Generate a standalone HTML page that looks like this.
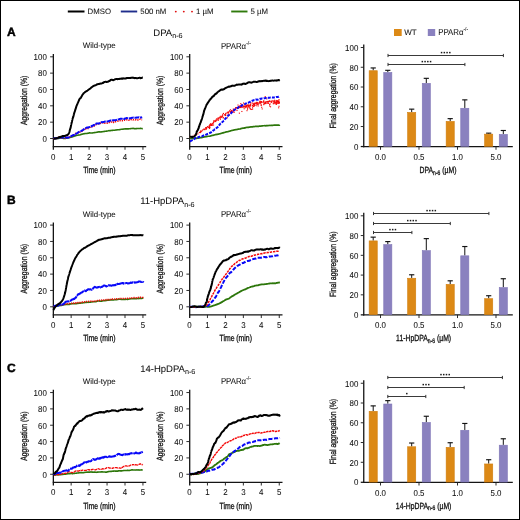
<!DOCTYPE html>
<html><head><meta charset="utf-8"><style>
html,body{margin:0;padding:0;background:#fff;width:520px;height:520px;overflow:hidden}
svg{display:block;will-change:transform}
text{text-rendering:geometricPrecision;font-family:"Liberation Sans", sans-serif;fill:#111;stroke:#111;stroke-width:0.06px}
text.c{stroke-width:0.3px}
text.b{stroke-width:0.45px;fill:#000;stroke:#000}
</style></head><body>
<svg width="520" height="520" viewBox="0 0 520 520">
<rect x="0" y="0" width="520" height="520" fill="#fff"/>
<rect x="0.5" y="0.5" width="519" height="519" fill="none" stroke="#000" stroke-width="1"/>
<line x1="67.8" y1="11.5" x2="84.5" y2="11.5" stroke="#000" stroke-width="2.0"/>
<text x="87.6" y="14.2" font-size="7.8" text-anchor="start" font-weight="normal">DMSO</text>
<line x1="120.8" y1="11.5" x2="137.2" y2="11.5" stroke="#1f2d8c" stroke-width="1.9"/>
<text x="140.3" y="14.2" font-size="7.8" text-anchor="start" font-weight="normal">500 nM</text>
<circle cx="175.8" cy="11.6" r="0.95" fill="#e01010"/>
<circle cx="183.8" cy="11.6" r="0.95" fill="#e01010"/>
<circle cx="192.0" cy="11.6" r="0.95" fill="#e01010"/>
<text x="196" y="14.2" font-size="7.8" text-anchor="start" font-weight="normal">1 µM</text>
<line x1="231.2" y1="11.5" x2="247.5" y2="11.5" stroke="#2f7a0c" stroke-width="1.9"/>
<text x="250.6" y="14.2" font-size="7.8" text-anchor="start" font-weight="normal">5 µM</text>
<text x="7" y="35.8" font-size="12" text-anchor="start" font-weight="bold" class="b">A</text>
<text x="153.3" y="35.8" font-size="9.5">DPA<tspan font-size="7.2" dy="2.5">n-6</tspan></text>
<line x1="53.35" y1="54.1" x2="53.35" y2="149.75" stroke="#141414" stroke-width="1.3"/>
<line x1="52.75" y1="146.55" x2="146.2" y2="146.55" stroke="#141414" stroke-width="1.25"/>
<line x1="50.1" y1="138.5" x2="53.2" y2="138.5" stroke="#222" stroke-width="0.95"/>
<text transform="translate(46.8,141.8) scale(0.92,1)" font-size="8.6" text-anchor="end" font-weight="normal">0</text>
<line x1="50.1" y1="122.16" x2="53.2" y2="122.16" stroke="#222" stroke-width="0.95"/>
<text transform="translate(46.8,125.46) scale(0.92,1)" font-size="8.6" text-anchor="end" font-weight="normal">20</text>
<line x1="50.1" y1="105.82" x2="53.2" y2="105.82" stroke="#222" stroke-width="0.95"/>
<text transform="translate(46.8,109.12) scale(0.92,1)" font-size="8.6" text-anchor="end" font-weight="normal">40</text>
<line x1="50.1" y1="89.48" x2="53.2" y2="89.48" stroke="#222" stroke-width="0.95"/>
<text transform="translate(46.8,92.78) scale(0.92,1)" font-size="8.6" text-anchor="end" font-weight="normal">60</text>
<line x1="50.1" y1="73.14" x2="53.2" y2="73.14" stroke="#222" stroke-width="0.95"/>
<text transform="translate(46.8,76.44) scale(0.92,1)" font-size="8.6" text-anchor="end" font-weight="normal">80</text>
<line x1="50.1" y1="56.8" x2="53.2" y2="56.8" stroke="#222" stroke-width="0.95"/>
<text transform="translate(46.8,60.1) scale(0.92,1)" font-size="8.6" text-anchor="end" font-weight="normal">100</text>
<line x1="71.15" y1="146.55" x2="71.15" y2="149.75" stroke="#222" stroke-width="0.95"/>
<line x1="89.1" y1="146.55" x2="89.1" y2="149.75" stroke="#222" stroke-width="0.95"/>
<line x1="107.05" y1="146.55" x2="107.05" y2="149.75" stroke="#222" stroke-width="0.95"/>
<line x1="125" y1="146.55" x2="125" y2="149.75" stroke="#222" stroke-width="0.95"/>
<line x1="142.95" y1="146.55" x2="142.95" y2="149.75" stroke="#222" stroke-width="0.95"/>
<text transform="translate(53.2,159.7) scale(0.92,1)" font-size="8.6" text-anchor="middle" font-weight="normal">0</text>
<text transform="translate(71.15,159.7) scale(0.92,1)" font-size="8.6" text-anchor="middle" font-weight="normal">1</text>
<text transform="translate(89.1,159.7) scale(0.92,1)" font-size="8.6" text-anchor="middle" font-weight="normal">2</text>
<text transform="translate(107.05,159.7) scale(0.92,1)" font-size="8.6" text-anchor="middle" font-weight="normal">3</text>
<text transform="translate(125,159.7) scale(0.92,1)" font-size="8.6" text-anchor="middle" font-weight="normal">4</text>
<text transform="translate(142.95,159.7) scale(0.92,1)" font-size="8.6" text-anchor="middle" font-weight="normal">5</text>
<text transform="translate(99.4,172.9) scale(0.76,1)" font-size="9.0" text-anchor="middle" font-weight="normal" class="c">Time (min)</text>
<text class="c" transform="translate(26.6,100.4) rotate(-90) scale(0.76,1)" font-size="9.0" text-anchor="middle">Aggregation (%)</text>
<text x="99.3" y="48.4" font-size="7.9" text-anchor="middle">Wild-type</text>
<polyline fill="none" stroke="#2c760a" stroke-width="1.6" stroke-linejoin="round" stroke-linecap="butt" points="53.65,138.52 53.87,138.51 54.17,138.53 54.54,138.55 54.97,138.6 55.44,138.64 55.96,138.65 56.5,138.58 57.06,138.44 57.64,138.4 58.21,138.39 58.78,138.38 59.33,138.26 59.87,138.24 60.38,138.13 60.87,138.07 61.34,138.06 61.81,138.15 62.27,138.28 62.74,138.3 63.21,138.35 63.69,138.35 64.18,138.32 64.68,138.37 65.19,138.41 65.72,138.42 66.26,138.32 66.79,138.26 67.32,138.07 67.83,137.96 68.33,137.84 68.8,137.79 69.26,137.7 69.72,137.56 70.17,137.42 70.63,137.32 71.1,137.13 71.57,137.03 72.05,136.96 72.54,136.76 73.03,136.55 73.53,136.51 74.03,136.23 74.53,136.03 75.04,135.95 75.55,135.75 76.07,135.55 76.58,135.51 77.1,135.3 77.62,135.2 78.13,135.14 78.65,135.03 79.16,134.99 79.67,134.97 80.18,134.81 80.68,134.6 81.19,134.48 81.7,134.27 82.21,134.14 82.73,133.97 83.25,133.9 83.78,133.75 84.31,133.77 84.84,133.6 85.38,133.51 85.92,133.49 86.45,133.52 86.98,133.41 87.51,133.34 88.04,133.21 88.56,133.15 89.07,132.96 89.58,132.81 90.07,132.9 90.56,133.03 91.03,132.96 91.49,132.95 91.95,132.97 92.4,132.95 92.87,132.86 93.35,132.82 93.84,132.77 94.36,132.6 94.87,132.52 95.38,132.48 95.87,132.42 96.34,132.24 96.79,132.24 97.25,132.17 97.72,131.98 98.21,131.89 98.72,132 99.24,131.9 99.75,131.89 100.25,131.95 100.73,131.9 101.19,131.81 101.65,131.85 102.1,131.72 102.56,131.69 103.03,131.6 103.52,131.5 104.01,131.46 104.51,131.39 105.02,131.21 105.54,131.23 106.06,131.27 106.59,131.12 107.13,130.97 107.66,130.94 108.2,130.82 108.74,130.65 109.28,130.68 109.82,130.64 110.36,130.64 110.89,130.52 111.42,130.43 111.95,130.32 112.47,130.37 112.99,130.29 113.5,130.32 114.01,130.31 114.52,130.22 115.03,130.13 115.53,130.01 116.04,129.95 116.54,129.91 117.04,129.84 117.54,129.79 118.04,129.77 118.54,129.8 119.03,129.73 119.54,129.65 120.04,129.53 120.54,129.44 121.05,129.33 121.56,129.24 122.07,129.23 122.59,129.3 123.11,129.11 123.64,128.95 124.17,128.94 124.7,128.89 125.24,128.77 125.77,128.84 126.31,128.9 126.84,128.87 127.36,128.8 127.88,128.89 128.41,128.91 128.94,128.82 129.48,128.78 130.03,128.78 130.59,128.63 131.16,128.45 131.73,128.44 132.31,128.48 132.9,128.42 133.48,128.41 134.07,128.6 134.66,128.66 135.24,128.68 135.82,128.65 136.39,128.63 136.95,128.55 137.5,128.53 138.05,128.51 138.57,128.45 139.09,128.52 139.58,128.46 140.06,128.46 140.52,128.32 140.95,128.47 141.36,128.47 141.73,128.54 142.07,128.51 142.37,128.63 142.61,128.62 142.8,128.55"/>
<polyline fill="none" stroke="#f40808" stroke-width="1.6" stroke-linejoin="round" stroke-linecap="butt" stroke-dasharray="1.3,1.1" points="53.65,139.08 53.87,138.96 54.17,138.75 54.54,138.76 54.96,138.43 55.44,138.55 55.95,138.45 56.49,138.21 57.06,137.92 57.63,137.84 58.21,137.62 58.78,137.34 59.34,137.3 59.89,137.63 60.42,137.61 60.93,137.92 61.44,137.92 61.94,138.11 62.44,137.79 62.95,137.79 63.46,137.81 63.97,137.81 64.49,138.01 65,138.28 65.52,138.13 66.04,137.61 66.55,137.86 67.06,137.57 67.57,137.26 68.06,137.22 68.56,137.41 69.04,137.27 69.53,136.98 70.01,137.02 70.48,136.97 70.96,136.89 71.44,136.44 71.92,136.25 72.39,135.99 72.87,135.56 73.35,135.13 73.82,135.1 74.3,134.91 74.77,134.22 75.25,133.9 75.72,133.39 76.2,133.07 76.67,132.91 77.14,132.9 77.61,132.71 78.09,132.83 78.56,132.49 79.03,132.38 79.5,132.21 79.97,132.11 80.43,131.96 80.9,131.93 81.37,131.42 81.84,131.31 82.31,130.69 82.79,130.12 83.26,129.41 83.73,129.43 84.2,128.93 84.68,128.98 85.15,128.89 85.63,128.95 86.11,128.54 86.59,128.54 87.07,128.6 87.55,128.44 88.03,128.34 88.51,128.37 88.99,128.13 89.46,127.55 89.94,127.29 90.41,127.19 90.89,126.67 91.36,126.44 91.83,126.57 92.29,126.58 92.75,126.26 93.21,126.41 93.66,126.33 94.1,125.86 94.53,125.37 94.97,125.11 95.4,124.95 95.85,124.68 96.3,124.55 96.76,124.49 97.25,124.21 97.75,123.91 98.27,123.67 98.79,123.69 99.31,123.34 99.82,123.47 100.31,123.29 100.79,123.08 101.26,123.04 101.71,123.23 102.18,122.81 102.64,122.7 103.12,122.92 103.61,122.68 104.1,122.75 104.6,123.08 105.11,123.21 105.62,123.14 106.14,123.31 106.67,123.22 107.2,123.11 107.73,122.67 108.26,122.68 108.79,122.61 109.32,122.41 109.86,122.21 110.39,122.68 110.91,122.26 111.44,122.07 111.96,122.37 112.47,122.23 112.98,121.99 113.48,122.4 113.98,122.25 114.48,121.92 114.97,122.09 115.47,121.8 115.95,121.45 116.44,121.42 116.93,121.38 117.41,121.17 117.9,121.18 118.38,120.97 118.86,120.8 119.35,120.72 119.84,120.66 120.32,120.49 120.81,120.43 121.3,120.76 121.8,120.72 122.29,120.72 122.79,120.41 123.29,120.54 123.79,120.18 124.3,120.19 124.81,120.1 125.33,120.38 125.84,120.32 126.36,119.94 126.87,119.81 127.38,119.76 127.9,119.64 128.42,119.72 128.95,120.19 129.48,119.84 130.03,119.69 130.59,119.8 131.15,119.63 131.72,119.32 132.3,119.36 132.88,119.73 133.46,119.82 134.03,119.62 134.61,119.49 135.18,119.84 135.75,119.69 136.31,119.79 136.85,120.05 137.39,120.12 137.91,119.92 138.42,119.5 138.91,119.15 139.39,119.03 139.84,119.22 140.27,119.09 140.67,119.36 141.05,119.52 141.38,119.58 141.68,119.59 141.92,119.71 142.1,119.69"/>
<polyline fill="none" stroke="#0808f8" stroke-width="2.0" stroke-linejoin="round" stroke-linecap="butt" stroke-dasharray="5,0.8" points="53.65,138.49 53.87,138.38 54.17,138.35 54.54,138.38 54.96,138.41 55.44,138.33 55.95,138.16 56.49,138.11 57.06,138.15 57.63,138.11 58.21,138.04 58.78,138.15 59.34,137.96 59.89,137.62 60.42,137.55 60.93,137.45 61.44,137.47 61.94,137.44 62.44,137.37 62.95,137.26 63.46,137.5 63.97,137.38 64.49,137.34 65,137.5 65.52,137.62 66.04,137.46 66.55,137.45 67.05,137.65 67.55,137.7 68.04,137.53 68.52,137.4 68.98,137.39 69.44,137.17 69.9,137.02 70.35,136.72 70.8,136.43 71.25,136.12 71.71,135.77 72.16,135.53 72.61,135.46 73.06,135.31 73.51,134.97 73.96,135 74.41,134.77 74.86,134.44 75.31,134.12 75.77,134.15 76.22,133.63 76.69,133.35 77.15,133.22 77.62,132.97 78.09,132.36 78.56,132.16 79.03,131.86 79.5,131.63 79.97,131.46 80.43,131.33 80.9,131.15 81.37,130.93 81.84,130.6 82.31,130.29 82.79,130.03 83.26,129.78 83.73,129.4 84.2,129.1 84.68,128.88 85.15,128.54 85.63,128.23 86.11,127.93 86.59,127.72 87.07,127.58 87.55,127.58 88.03,127.42 88.51,127.41 88.99,127.15 89.46,127.08 89.94,126.89 90.41,126.82 90.89,126.57 91.36,126.5 91.83,125.95 92.29,125.79 92.75,125.58 93.21,125.29 93.66,125.11 94.1,125.16 94.53,124.71 94.97,124.25 95.4,124.14 95.85,123.89 96.3,123.5 96.76,123.49 97.25,123.51 97.75,123.5 98.27,123.46 98.79,123.58 99.31,123.54 99.82,123.24 100.31,123 100.79,122.71 101.26,122.35 101.71,122.12 102.18,122.15 102.64,122.16 103.12,122.01 103.61,121.91 104.1,121.82 104.6,121.71 105.11,121.55 105.62,121.61 106.14,121.57 106.67,121.55 107.2,121.52 107.73,121.46 108.26,121.31 108.79,121.28 109.32,120.86 109.86,120.64 110.39,120.57 110.91,120.4 111.44,120.35 111.96,120.55 112.47,120.43 112.98,120.31 113.48,120.34 113.98,120.28 114.48,120.23 114.97,120.28 115.47,120.13 115.95,120.05 116.44,119.91 116.93,119.83 117.41,119.77 117.9,119.69 118.38,119.48 118.86,119.36 119.35,119.12 119.84,118.89 120.32,118.86 120.81,118.86 121.3,118.82 121.8,118.86 122.29,118.84 122.79,119 123.29,118.93 123.79,118.95 124.3,118.83 124.81,118.91 125.33,118.38 125.84,118.26 126.36,118.12 126.87,118.1 127.38,118.16 127.9,118.37 128.42,118.52 128.95,118.52 129.48,118.5 130.03,118.28 130.59,118.18 131.15,118.06 131.72,117.84 132.3,117.82 132.88,117.63 133.46,117.62 134.03,117.74 134.61,117.79 135.18,117.64 135.75,117.82 136.31,117.76 136.85,117.44 137.39,117.46 137.91,117.48 138.42,117.41 138.91,117.3 139.39,117.53 139.84,117.64 140.27,117.56 140.67,117.49 141.05,117.51 141.38,117.45 141.68,117.2 141.92,117.25 142.1,117.17"/>
<polyline fill="none" stroke="#000" stroke-width="2.0" stroke-linejoin="round" stroke-linecap="butt" points="53.74,138.58 54.02,138.69 54.39,138.53 54.83,138.32 55.33,138.38 55.85,138.46 56.37,138.19 56.89,138.32 57.39,138.15 57.87,137.93 58.35,137.6 58.84,137.51 59.33,136.93 59.84,137 60.34,136.95 60.84,136.78 61.35,136.51 61.87,136.44 62.39,136.28 62.93,135.98 63.48,136.01 64.03,136.04 64.57,136.11 65.1,135.74 65.61,135.66 66.1,135.36 66.56,135.22 67,135.07 67.42,135 67.8,134.68 68.15,134.39 68.45,134.02 68.71,133.49 68.94,133.14 69.14,132.75 69.32,132.33 69.48,131.75 69.62,131.24 69.76,130.47 69.89,129.86 70.02,129.42 70.15,129.02 70.27,128.65 70.39,128.46 70.52,127.88 70.64,127.31 70.77,127.02 70.89,126.2 71.02,125.37 71.15,124.93 71.27,124.42 71.4,123.63 71.53,123.3 71.66,122.88 71.79,122.36 71.92,121.92 72.05,121.15 72.19,120.57 72.32,120.02 72.45,119.39 72.58,118.68 72.71,118.46 72.85,117.99 72.98,117.56 73.11,117.27 73.24,116.93 73.38,116.42 73.52,115.99 73.65,115.26 73.79,114.67 73.94,114.18 74.08,113.56 74.22,113.06 74.36,112.81 74.51,112.22 74.65,111.76 74.79,111.55 74.93,111.03 75.08,110.49 75.23,110.1 75.38,109.72 75.53,109.07 75.69,108.74 75.86,108.16 76.03,107.68 76.2,107.01 76.38,106.29 76.56,105.87 76.74,105.56 76.92,104.89 77.12,104.5 77.31,104.21 77.52,103.62 77.73,103.08 77.95,102.63 78.17,102.04 78.4,101.74 78.63,101.14 78.87,100.51 79.12,100.04 79.38,99.46 79.64,98.85 79.91,98.64 80.19,98.35 80.46,98.08 80.74,98.02 81.02,97.49 81.31,96.8 81.6,96.38 81.9,95.99 82.21,95.2 82.53,94.71 82.85,94.4 83.18,93.97 83.52,93.37 83.87,93.07 84.24,92.77 84.61,92.42 84.99,92.03 85.38,91.82 85.79,91.47 86.2,91.32 86.61,91.11 87.04,90.77 87.46,90.56 87.89,90.21 88.32,89.81 88.76,89.44 89.19,89.35 89.63,88.92 90.06,88.7 90.51,88.42 90.95,87.87 91.4,87.41 91.85,87.09 92.3,86.86 92.75,86.44 93.2,86.12 93.65,85.87 94.1,85.73 94.54,85.39 94.98,85.39 95.41,85.37 95.83,85.1 96.25,84.94 96.66,84.66 97.09,84.31 97.54,84.18 98.02,84.17 98.52,83.93 99.05,83.97 99.58,83.8 100.1,83.67 100.6,83.6 101.07,83.39 101.52,83.48 101.95,83.34 102.39,83.17 102.83,82.86 103.28,82.91 103.74,82.35 104.22,82.04 104.7,81.95 105.2,81.87 105.7,81.67 106.21,81.94 106.73,82.04 107.25,81.84 107.77,81.7 108.3,81.52 108.83,81.26 109.36,80.95 109.88,80.74 110.41,80.11 110.94,80.02 111.46,79.66 111.97,79.78 112.49,79.94 112.99,80.22 113.5,79.99 114.01,79.87 114.51,79.58 115.01,79.17 115.51,79.16 116.01,79.1 116.51,79.09 117.01,79.08 117.51,79.18 118.01,79.1 118.51,79.01 119.01,79.01 119.51,78.95 120.01,78.66 120.52,78.71 121.03,78.73 121.54,78.5 122.06,78.58 122.57,78.7 123.1,78.32 123.63,78.4 124.16,78.5 124.7,78.44 125.23,78.39 125.77,78.5 126.31,78.11 126.84,78.15 127.36,78.02 127.88,77.94 128.41,77.97 128.94,78.12 129.48,78.07 130.03,78 130.59,78.01 131.16,77.71 131.73,77.64 132.31,77.62 132.9,77.8 133.48,77.75 134.07,77.96 134.66,78.17 135.24,78.05 135.82,77.97 136.39,78.19 136.95,78.2 137.5,78.15 138.05,78.1 138.57,78.04 139.09,77.83 139.58,77.84 140.06,77.82 140.52,78.16 140.95,78.06 141.36,78 141.73,78.03 142.07,77.78 142.37,77.57 142.61,77.7 142.8,77.73"/>
<line x1="189.7" y1="54.1" x2="189.7" y2="149.75" stroke="#141414" stroke-width="1.3"/>
<line x1="189.1" y1="146.55" x2="282.5" y2="146.55" stroke="#141414" stroke-width="1.25"/>
<line x1="186.4" y1="138.5" x2="189.5" y2="138.5" stroke="#222" stroke-width="0.95"/>
<text transform="translate(183.1,141.8) scale(0.92,1)" font-size="8.6" text-anchor="end" font-weight="normal">0</text>
<line x1="186.4" y1="122.16" x2="189.5" y2="122.16" stroke="#222" stroke-width="0.95"/>
<text transform="translate(183.1,125.46) scale(0.92,1)" font-size="8.6" text-anchor="end" font-weight="normal">20</text>
<line x1="186.4" y1="105.82" x2="189.5" y2="105.82" stroke="#222" stroke-width="0.95"/>
<text transform="translate(183.1,109.12) scale(0.92,1)" font-size="8.6" text-anchor="end" font-weight="normal">40</text>
<line x1="186.4" y1="89.48" x2="189.5" y2="89.48" stroke="#222" stroke-width="0.95"/>
<text transform="translate(183.1,92.78) scale(0.92,1)" font-size="8.6" text-anchor="end" font-weight="normal">60</text>
<line x1="186.4" y1="73.14" x2="189.5" y2="73.14" stroke="#222" stroke-width="0.95"/>
<text transform="translate(183.1,76.44) scale(0.92,1)" font-size="8.6" text-anchor="end" font-weight="normal">80</text>
<line x1="186.4" y1="56.8" x2="189.5" y2="56.8" stroke="#222" stroke-width="0.95"/>
<text transform="translate(183.1,60.1) scale(0.92,1)" font-size="8.6" text-anchor="end" font-weight="normal">100</text>
<line x1="207.45" y1="146.55" x2="207.45" y2="149.75" stroke="#222" stroke-width="0.95"/>
<line x1="225.4" y1="146.55" x2="225.4" y2="149.75" stroke="#222" stroke-width="0.95"/>
<line x1="243.35" y1="146.55" x2="243.35" y2="149.75" stroke="#222" stroke-width="0.95"/>
<line x1="261.3" y1="146.55" x2="261.3" y2="149.75" stroke="#222" stroke-width="0.95"/>
<line x1="279.25" y1="146.55" x2="279.25" y2="149.75" stroke="#222" stroke-width="0.95"/>
<text transform="translate(189.5,159.7) scale(0.92,1)" font-size="8.6" text-anchor="middle" font-weight="normal">0</text>
<text transform="translate(207.45,159.7) scale(0.92,1)" font-size="8.6" text-anchor="middle" font-weight="normal">1</text>
<text transform="translate(225.4,159.7) scale(0.92,1)" font-size="8.6" text-anchor="middle" font-weight="normal">2</text>
<text transform="translate(243.35,159.7) scale(0.92,1)" font-size="8.6" text-anchor="middle" font-weight="normal">3</text>
<text transform="translate(261.3,159.7) scale(0.92,1)" font-size="8.6" text-anchor="middle" font-weight="normal">4</text>
<text transform="translate(279.25,159.7) scale(0.92,1)" font-size="8.6" text-anchor="middle" font-weight="normal">5</text>
<text transform="translate(235.7,172.9) scale(0.76,1)" font-size="9.0" text-anchor="middle" font-weight="normal" class="c">Time (min)</text>
<text class="c" transform="translate(162.9,100.4) rotate(-90) scale(0.76,1)" font-size="9.0" text-anchor="middle">Aggregation (%)</text>
<text transform="translate(220.9,48.6) scale(0.92,1)" font-size="8.5">PPARα<tspan font-size="5.4" dy="-3.9">-/-</tspan></text>
<polyline fill="none" stroke="#2c760a" stroke-width="1.7" stroke-linejoin="round" stroke-linecap="butt" points="189.96,138.45 190.19,138.38 190.5,138.43 190.88,138.41 191.32,138.48 191.81,138.47 192.34,138.49 192.89,138.57 193.45,138.48 194.01,138.46 194.56,138.5 195.08,138.45 195.6,138.25 196.1,138.33 196.6,138.39 197.11,138.16 197.62,138.09 198.14,138.13 198.66,137.99 199.19,137.85 199.72,137.88 200.26,137.75 200.8,137.67 201.33,137.6 201.85,137.43 202.38,137.31 202.9,137.28 203.41,137.08 203.93,136.93 204.46,136.87 204.98,136.85 205.51,136.72 206.03,136.68 206.56,136.57 207.08,136.49 207.59,136.34 208.09,136.27 208.59,136.26 209.08,136.25 209.56,136.25 210.04,136.14 210.52,136.02 210.98,135.75 211.44,135.7 211.88,135.47 212.33,135.41 212.79,135.36 213.27,135.31 213.79,135.11 214.32,135.01 214.87,134.78 215.41,134.64 215.93,134.65 216.42,134.4 216.9,134.32 217.38,134.31 217.85,134.19 218.34,134.03 218.85,134.07 219.36,133.88 219.89,133.78 220.44,133.59 220.99,133.46 221.54,133.2 222.1,133.06 222.67,132.96 223.23,132.86 223.79,132.67 224.35,132.5 224.9,132.32 225.44,132.1 225.97,131.99 226.48,131.89 226.98,131.85 227.47,131.76 227.94,131.7 228.4,131.51 228.87,131.34 229.34,131.23 229.83,131.11 230.32,130.9 230.8,130.76 231.26,130.66 231.69,130.53 232.1,130.44 232.5,130.29 232.91,130.25 233.34,130.18 233.8,129.99 234.27,129.91 234.76,129.86 235.23,129.72 235.69,129.66 236.14,129.69 236.57,129.52 237.01,129.47 237.46,129.35 237.92,129.34 238.39,129.14 238.88,129.15 239.37,128.99 239.88,128.98 240.39,128.87 240.91,128.66 241.44,128.47 241.98,128.43 242.51,128.28 243.05,128.02 243.6,128.17 244.14,128.1 244.68,127.88 245.22,127.84 245.76,127.69 246.3,127.54 246.83,127.42 247.35,127.43 247.87,127.37 248.39,127.4 248.9,127.19 249.4,127.05 249.91,127.04 250.41,126.95 250.91,126.84 251.41,126.9 251.9,126.96 252.39,126.87 252.89,126.66 253.38,126.63 253.87,126.58 254.36,126.55 254.85,126.51 255.35,126.46 255.84,126.44 256.34,126.37 256.84,126.43 257.35,126.29 257.86,126.36 258.37,126.31 258.89,126.29 259.42,126.09 259.95,126.17 260.49,126.1 261.02,126.08 261.56,125.96 262.1,125.96 262.63,125.82 263.15,125.74 263.67,125.75 264.19,125.76 264.72,125.69 265.25,125.71 265.8,125.82 266.36,125.67 266.92,125.62 267.5,125.65 268.08,125.63 268.66,125.53 269.25,125.44 269.84,125.48 270.43,125.44 271.02,125.38 271.61,125.36 272.19,125.45 272.77,125.34 273.34,125.24 273.9,125.17 274.45,125.13 274.99,125.05 275.51,124.99 276.02,125.06 276.51,125 276.98,125.05 277.43,125.01 277.86,125.07 278.27,125.09 278.64,125.15 278.98,125.06 279.27,125.1 279.52,125.08 279.7,124.9"/>
<polyline fill="none" stroke="#f40808" stroke-width="1.1" stroke-linejoin="round" stroke-linecap="butt" stroke-dasharray="1.2,1.0" points="190,136.51 190.26,136.78 190.6,136.89 191.02,137.06 191.5,136.9 192.03,136.64 192.57,136.31 193.12,135.94 193.67,135.65 194.2,135.21 194.72,135.01 195.22,134.92 195.7,134.61 196.16,134.45 196.59,134.74 197.01,134.54 197.41,134.75 197.79,134.09 198.15,133.73 198.51,132.87 198.87,132.77 199.24,132.53 199.62,132.19 200,131.91 200.41,132.09 200.82,131.48 201.25,130.7 201.69,130.46 202.14,130.33 202.6,130 203.07,129.79 203.54,129.24 204.01,129.6 204.47,129.01 204.92,128.7 205.36,128.3 205.78,127.66 206.2,127.24 206.62,127.12 207.03,126.97 207.44,126.61 207.86,126.82 208.28,126.68 208.7,126.37 209.12,126.17 209.54,126.51 209.95,126 210.36,125.11 210.76,124.94 211.15,124.68 211.55,124.11 211.95,124.15 212.34,124.09 212.75,123.39 213.15,122.9 213.56,122.13 213.98,121.19 214.4,120.76 214.82,121.13 215.25,121.03 215.67,120.76 216.09,120.69 216.51,120.66 216.93,119.64 217.35,119.21 217.78,119.06 218.21,118.7 218.64,118.66 219.08,118.41 219.52,117.89 219.96,117.62 220.4,117.52 220.84,117.02 221.28,116.72 221.72,115.98 222.16,115.22 222.59,114.73 223.02,114.22 223.45,114.11 223.88,114.27 224.31,114.62 224.73,114.67 225.16,114.4 225.59,113.99 226.02,113.24 226.45,112.82 226.88,112.64 227.32,112.68 227.77,112.55 228.21,112.72 228.66,112.71 229.1,112.35 229.54,112.14 229.97,112.04 230.4,111.88 230.82,111.71 231.24,111.32 231.66,110.82 232.08,110.25 232.5,109.77 232.92,109.57 233.36,109.83 233.79,109.67 234.23,109.72 234.68,109.92 235.14,109.52 235.6,109.17 236.06,108.66 236.54,108.18 237.01,107.83 237.49,107.79 237.97,107.38 238.45,107.32 238.93,107.26 239.42,106.89 239.91,106.27 240.42,106.48 240.92,106.44 241.44,106.44 241.96,107 242.48,107.38 243.01,107.05 243.54,106.99 244.06,107.02 244.59,106.84 245.1,106.65 245.61,106.8 246.12,106.9 246.61,106.86 247.09,106.39 247.58,106.27 248.06,106.2 248.54,105.77 249.04,105.54 249.55,105.53 250.07,105.18 250.59,104.68 251.1,105.04 251.61,105.35 252.09,105.29 252.57,105.34 253.03,104.91 253.49,105.02 253.95,104.45 254.41,104.17 254.88,103.71 255.35,103.92 255.82,103.12 256.3,103.01 256.79,103.01 257.28,103.17 257.77,103.14 258.26,103.1 258.76,103.32 259.25,102.98 259.74,102.49 260.24,102.3 260.73,102.24 261.22,101.62 261.72,101.62 262.22,102.02 262.72,101.73 263.22,101.8 263.72,102.27 264.23,102.44 264.73,102.28 265.24,102.51 265.74,102.46 266.26,102.07 266.78,102.03 267.32,102 267.86,101.39 268.41,101.37 268.95,101.15 269.5,101.1 270.04,100.96 270.58,101.51 271.13,101.99 271.68,101.94 272.24,101.53 272.82,101.34 273.4,100.77 273.98,99.86 274.56,100.17 275.14,100.28 275.7,100.17 276.25,100.37 276.77,100.93 277.26,100.68 277.71,100.74 278.12,101.23 278.47,101.86 278.75,102.16 278.96,102.56"/>
<g fill="#f40808">
<rect x="215.55" y="119.26" width="1.1" height="1.1"/>
<rect x="217.21" y="118.65" width="1.1" height="1.1"/>
<rect x="215.15" y="120.06" width="1.1" height="1.1"/>
<rect x="276.82" y="100.85" width="1.1" height="1.1"/>
<rect x="207.3" y="126.33" width="1.1" height="1.1"/>
<rect x="240.35" y="106.61" width="1.1" height="1.1"/>
<rect x="261.66" y="101.68" width="1.1" height="1.1"/>
<rect x="242.99" y="106.07" width="1.1" height="1.1"/>
<rect x="222.05" y="115.39" width="1.1" height="1.1"/>
<rect x="275.77" y="101.41" width="1.1" height="1.1"/>
<rect x="275.21" y="102.13" width="1.1" height="1.1"/>
<rect x="277.3" y="102.23" width="1.1" height="1.1"/>
<rect x="234.56" y="108.54" width="1.1" height="1.1"/>
<rect x="230.68" y="111.21" width="1.1" height="1.1"/>
<rect x="240.87" y="104.8" width="1.1" height="1.1"/>
<rect x="254.3" y="102.53" width="1.1" height="1.1"/>
<rect x="273.43" y="101.13" width="1.1" height="1.1"/>
<rect x="259.69" y="100.73" width="1.1" height="1.1"/>
<rect x="237.9" y="107.05" width="1.1" height="1.1"/>
<rect x="209.83" y="124.53" width="1.1" height="1.1"/>
<rect x="231.1" y="110.05" width="1.1" height="1.1"/>
<rect x="205.66" y="127.43" width="1.1" height="1.1"/>
<rect x="256.24" y="101.76" width="1.1" height="1.1"/>
<rect x="256.73" y="103.95" width="1.1" height="1.1"/>
<rect x="259.19" y="102.51" width="1.1" height="1.1"/>
<rect x="222.91" y="112.9" width="1.1" height="1.1"/>
<rect x="225.03" y="113.2" width="1.1" height="1.1"/>
<rect x="208.57" y="125.41" width="1.1" height="1.1"/>
<rect x="265.17" y="101.91" width="1.1" height="1.1"/>
<rect x="245.09" y="104.37" width="1.1" height="1.1"/>
<rect x="209.45" y="126.53" width="1.1" height="1.1"/>
<rect x="232.79" y="109.92" width="1.1" height="1.1"/>
<rect x="263.18" y="100.89" width="1.1" height="1.1"/>
<rect x="225.03" y="113.6" width="1.1" height="1.1"/>
<rect x="213.41" y="119.96" width="1.1" height="1.1"/>
<rect x="277.3" y="101.52" width="1.1" height="1.1"/>
<rect x="267.83" y="100.99" width="1.1" height="1.1"/>
<rect x="278.75" y="101.77" width="1.1" height="1.1"/>
<rect x="235.03" y="107.3" width="1.1" height="1.1"/>
<rect x="267.83" y="102.54" width="1.1" height="1.1"/>
<rect x="236.45" y="109.94" width="1.1" height="1.1"/>
<rect x="220.73" y="116.96" width="1.1" height="1.1"/>
<rect x="273.43" y="101.52" width="1.1" height="1.1"/>
<rect x="235.49" y="107.12" width="1.1" height="1.1"/>
<rect x="238.36" y="107.15" width="1.1" height="1.1"/>
<rect x="210.99" y="124.53" width="1.1" height="1.1"/>
<rect x="278.46" y="100.39" width="1.1" height="1.1"/>
<rect x="232.79" y="108.48" width="1.1" height="1.1"/>
<rect x="249.55" y="104.71" width="1.1" height="1.1"/>
<rect x="230.27" y="111.19" width="1.1" height="1.1"/>
<rect x="243.53" y="105.55" width="1.1" height="1.1"/>
<rect x="249.55" y="104.74" width="1.1" height="1.1"/>
<rect x="257.71" y="103.71" width="1.1" height="1.1"/>
<rect x="227.65" y="111.97" width="1.1" height="1.1"/>
<rect x="245.6" y="104.83" width="1.1" height="1.1"/>
<rect x="266.72" y="101.34" width="1.1" height="1.1"/>
<rect x="277.3" y="100.52" width="1.1" height="1.1"/>
<rect x="276.82" y="100.77" width="1.1" height="1.1"/>
<rect x="224.61" y="114.72" width="1.1" height="1.1"/>
<rect x="234.11" y="110.03" width="1.1" height="1.1"/>
<rect x="210.6" y="124.63" width="1.1" height="1.1"/>
<rect x="275.21" y="101.69" width="1.1" height="1.1"/>
<rect x="247.93" y="104.96" width="1.1" height="1.1"/>
<rect x="259.69" y="102.19" width="1.1" height="1.1"/>
<rect x="219.4" y="118.09" width="1.1" height="1.1"/>
<rect x="256.24" y="102.37" width="1.1" height="1.1"/>
<rect x="211.38" y="124.83" width="1.1" height="1.1"/>
<rect x="221.61" y="116.14" width="1.1" height="1.1"/>
<rect x="210.6" y="124.7" width="1.1" height="1.1"/>
<rect x="254.3" y="104.56" width="1.1" height="1.1"/>
<rect x="276.31" y="101.41" width="1.1" height="1.1"/>
<rect x="252.05" y="105.32" width="1.1" height="1.1"/>
<rect x="219.85" y="118.68" width="1.1" height="1.1"/>
<rect x="272.83" y="102.55" width="1.1" height="1.1"/>
<rect x="206.06" y="127.13" width="1.1" height="1.1"/>
<rect x="208.14" y="127.08" width="1.1" height="1.1"/>
<rect x="247.5" y="106.66" width="1.1" height="1.1"/>
<rect x="211.38" y="124.64" width="1.1" height="1.1"/>
<rect x="245.09" y="107.11" width="1.1" height="1.1"/>
<rect x="244.05" y="106.26" width="1.1" height="1.1"/>
<rect x="217.65" y="117.23" width="1.1" height="1.1"/>
<rect x="275.77" y="102.81" width="1.1" height="1.1"/>
<rect x="276.82" y="100.5" width="1.1" height="1.1"/>
<rect x="238.84" y="106.15" width="1.1" height="1.1"/>
<rect x="246.58" y="106.49" width="1.1" height="1.1"/>
<rect x="213.41" y="121.2" width="1.1" height="1.1"/>
<rect x="253.84" y="105.1" width="1.1" height="1.1"/>
<rect x="241.93" y="104.57" width="1.1" height="1.1"/>
<rect x="248.35" y="104.63" width="1.1" height="1.1"/>
<rect x="230.27" y="111.97" width="1.1" height="1.1"/>
<rect x="278.12" y="101.57" width="1.1" height="1.1"/>
<rect x="276.31" y="102.57" width="1.1" height="1.1"/>
<rect x="239.84" y="106.86" width="1.1" height="1.1"/>
<rect x="209.01" y="124.5" width="1.1" height="1.1"/>
<rect x="235.49" y="107.42" width="1.1" height="1.1"/>
<rect x="275.77" y="101.81" width="1.1" height="1.1"/>
<rect x="278.46" y="98.99" width="1.1" height="1.1"/>
<rect x="227.2" y="112.17" width="1.1" height="1.1"/>
<rect x="267.83" y="100.84" width="1.1" height="1.1"/>
<rect x="237.9" y="106.14" width="1.1" height="1.1"/>
<rect x="222.48" y="117.22" width="1.1" height="1.1"/>
<rect x="271.65" y="100.23" width="1.1" height="1.1"/>
<rect x="209.83" y="123.58" width="1.1" height="1.1"/>
<rect x="232.36" y="111.82" width="1.1" height="1.1"/>
<rect x="222.91" y="117.17" width="1.1" height="1.1"/>
<rect x="212.18" y="122.86" width="1.1" height="1.1"/>
<rect x="228.57" y="113.81" width="1.1" height="1.1"/>
<rect x="264.68" y="102.79" width="1.1" height="1.1"/>
<rect x="253.4" y="105.37" width="1.1" height="1.1"/>
<rect x="217.65" y="119.44" width="1.1" height="1.1"/>
<rect x="200.12" y="130.49" width="1.1" height="1.1"/>
<rect x="257.22" y="102.01" width="1.1" height="1.1"/>
<rect x="253.4" y="102.95" width="1.1" height="1.1"/>
<rect x="208.14" y="126.74" width="1.1" height="1.1"/>
<rect x="239.84" y="106.05" width="1.1" height="1.1"/>
<rect x="235.97" y="107.15" width="1.1" height="1.1"/>
<rect x="210.22" y="123.17" width="1.1" height="1.1"/>
<rect x="203.43" y="128.92" width="1.1" height="1.1"/>
<rect x="247.05" y="104.74" width="1.1" height="1.1"/>
<rect x="240.35" y="106.99" width="1.1" height="1.1"/>
<rect x="260.67" y="104.97" width="1.1" height="1.1"/>
<rect x="237.45" y="107.78" width="1.1" height="1.1"/>
<rect x="264.18" y="102.67" width="1.1" height="1.1"/>
<rect x="256.73" y="103.11" width="1.1" height="1.1"/>
<rect x="257.71" y="105.37" width="1.1" height="1.1"/>
<rect x="222.05" y="115.28" width="1.1" height="1.1"/>
<rect x="212.59" y="122.65" width="1.1" height="1.1"/>
<rect x="269.05" y="100.51" width="1.1" height="1.1"/>
<rect x="209.45" y="124.7" width="1.1" height="1.1"/>
<rect x="245.6" y="105.85" width="1.1" height="1.1"/>
<rect x="205.25" y="128.17" width="1.1" height="1.1"/>
<rect x="254.3" y="103.06" width="1.1" height="1.1"/>
<rect x="278.46" y="102.59" width="1.1" height="1.1"/>
<rect x="241.93" y="105.5" width="1.1" height="1.1"/>
<rect x="274.63" y="100.46" width="1.1" height="1.1"/>
<rect x="209.01" y="126.98" width="1.1" height="1.1"/>
<rect x="275.77" y="103.35" width="1.1" height="1.1"/>
<rect x="219.4" y="116.73" width="1.1" height="1.1"/>
<rect x="247.5" y="104.92" width="1.1" height="1.1"/>
<rect x="240.87" y="104.17" width="1.1" height="1.1"/>
<rect x="214.7" y="120.7" width="1.1" height="1.1"/>
<rect x="232.79" y="110.72" width="1.1" height="1.1"/>
<rect x="203.43" y="128.44" width="1.1" height="1.1"/>
<rect x="205.66" y="128.72" width="1.1" height="1.1"/>
<rect x="260.18" y="101.72" width="1.1" height="1.1"/>
<rect x="267.27" y="101.16" width="1.1" height="1.1"/>
<rect x="245.6" y="105.68" width="1.1" height="1.1"/>
<rect x="269.51" y="101.08" width="1.1" height="1.1"/>
<rect x="278.46" y="102.63" width="1.1" height="1.1"/>
<rect x="210.99" y="123.66" width="1.1" height="1.1"/>
<rect x="253.84" y="103.62" width="1.1" height="1.1"/>
<rect x="200.12" y="131.66" width="1.1" height="1.1"/>
<rect x="213" y="124.46" width="1.1" height="1.1"/>
<rect x="213" y="121.93" width="1.1" height="1.1"/>
<rect x="201.34" y="130.41" width="1.1" height="1.1"/>
<rect x="219.85" y="115.75" width="1.1" height="1.1"/>
<rect x="240.35" y="105.89" width="1.1" height="1.1"/>
<rect x="209.01" y="127.27" width="1.1" height="1.1"/>
<rect x="264.68" y="101.28" width="1.1" height="1.1"/>
<rect x="227.65" y="111.15" width="1.1" height="1.1"/>
<rect x="205.66" y="127.41" width="1.1" height="1.1"/>
<rect x="277.73" y="100.93" width="1.1" height="1.1"/>
<rect x="273.43" y="100.42" width="1.1" height="1.1"/>
<rect x="217.65" y="117.88" width="1.1" height="1.1"/>
<rect x="255.74" y="102.37" width="1.1" height="1.1"/>
<rect x="250.09" y="105.4" width="1.1" height="1.1"/>
<rect x="217.65" y="119.76" width="1.1" height="1.1"/>
<rect x="277.3" y="103.03" width="1.1" height="1.1"/>
<rect x="247.05" y="107.68" width="1.1" height="1.1"/>
<rect x="229.46" y="110.81" width="1.1" height="1.1"/>
<rect x="266.19" y="101.01" width="1.1" height="1.1"/>
<rect x="277.73" y="100.47" width="1.1" height="1.1"/>
<rect x="270.53" y="100.53" width="1.1" height="1.1"/>
<rect x="215.95" y="118.37" width="1.1" height="1.1"/>
<rect x="233.66" y="111.76" width="1.1" height="1.1"/>
<rect x="243.53" y="104.52" width="1.1" height="1.1"/>
<rect x="271.08" y="101.23" width="1.1" height="1.1"/>
<rect x="199.85" y="132.06" width="1.1" height="1.1"/>
<rect x="229.05" y="110.26" width="1.1" height="1.1"/>
<rect x="204.45" y="129.02" width="1.1" height="1.1"/>
<rect x="215.15" y="121.01" width="1.1" height="1.1"/>
<rect x="229.86" y="109.21" width="1.1" height="1.1"/>
<rect x="263.68" y="102.88" width="1.1" height="1.1"/>
<rect x="209.01" y="127.93" width="1.1" height="1.1"/>
<rect x="255.74" y="102.77" width="1.1" height="1.1"/>
<rect x="225.03" y="114.5" width="1.1" height="1.1"/>
<rect x="206.06" y="127.79" width="1.1" height="1.1"/>
<rect x="227.65" y="113.46" width="1.1" height="1.1"/>
<rect x="200.47" y="131.07" width="1.1" height="1.1"/>
<rect x="238.84" y="105.48" width="1.1" height="1.1"/>
<rect x="225.03" y="114.97" width="1.1" height="1.1"/>
<rect x="260.18" y="103.15" width="1.1" height="1.1"/>
<rect x="258.21" y="103.22" width="1.1" height="1.1"/>
<rect x="219.4" y="116.81" width="1.1" height="1.1"/>
<rect x="231.51" y="110.93" width="1.1" height="1.1"/>
<rect x="259.69" y="101.39" width="1.1" height="1.1"/>
<rect x="226.76" y="117.18" width="1.1" height="1.1"/>
<rect x="211.38" y="124.45" width="1.1" height="1.1"/>
<rect x="252.95" y="103.91" width="1.1" height="1.1"/>
<rect x="237.9" y="107.41" width="1.1" height="1.1"/>
</g>
<g fill="#f40808">
<rect x="276.82" y="100.65" width="1.1" height="1.1"/>
<rect x="274.03" y="101.14" width="1.1" height="1.1"/>
<rect x="274.03" y="102.4" width="1.1" height="1.1"/>
<rect x="243.05" y="102.48" width="1.1" height="1.1"/>
<rect x="275.77" y="103.86" width="1.1" height="1.1"/>
<rect x="238.82" y="112.62" width="1.1" height="1.1"/>
<rect x="248.97" y="105.36" width="1.1" height="1.1"/>
<rect x="260.67" y="101.8" width="1.1" height="1.1"/>
<rect x="266.19" y="98.35" width="1.1" height="1.1"/>
<rect x="276.31" y="101.47" width="1.1" height="1.1"/>
<rect x="244.8" y="105.98" width="1.1" height="1.1"/>
<rect x="252.05" y="105.11" width="1.1" height="1.1"/>
<rect x="269.51" y="103.35" width="1.1" height="1.1"/>
<rect x="252.5" y="102.81" width="1.1" height="1.1"/>
<rect x="251.59" y="102.42" width="1.1" height="1.1"/>
<rect x="240.25" y="103.06" width="1.1" height="1.1"/>
<rect x="238.41" y="107.03" width="1.1" height="1.1"/>
<rect x="278.75" y="101.74" width="1.1" height="1.1"/>
<rect x="267.83" y="102.59" width="1.1" height="1.1"/>
<rect x="250.09" y="105.13" width="1.1" height="1.1"/>
<rect x="256.24" y="105.2" width="1.1" height="1.1"/>
<rect x="267.27" y="102.76" width="1.1" height="1.1"/>
<rect x="253.4" y="105.51" width="1.1" height="1.1"/>
<rect x="265.17" y="103.07" width="1.1" height="1.1"/>
<rect x="246.46" y="110.11" width="1.1" height="1.1"/>
<rect x="249.55" y="107.59" width="1.1" height="1.1"/>
<rect x="247.47" y="104.23" width="1.1" height="1.1"/>
<rect x="260.67" y="101.58" width="1.1" height="1.1"/>
<rect x="245.93" y="104.8" width="1.1" height="1.1"/>
<rect x="261.66" y="108.36" width="1.1" height="1.1"/>
<rect x="278.12" y="107.25" width="1.1" height="1.1"/>
<rect x="252.05" y="107.19" width="1.1" height="1.1"/>
<rect x="278.12" y="102.61" width="1.1" height="1.1"/>
<rect x="248.97" y="106.66" width="1.1" height="1.1"/>
<rect x="272.83" y="103.21" width="1.1" height="1.1"/>
<rect x="263.68" y="103.43" width="1.1" height="1.1"/>
<rect x="246.98" y="108.65" width="1.1" height="1.1"/>
<rect x="247.93" y="105.67" width="1.1" height="1.1"/>
<rect x="243.64" y="108.18" width="1.1" height="1.1"/>
<rect x="270" y="106.23" width="1.1" height="1.1"/>
<rect x="251.11" y="108.92" width="1.1" height="1.1"/>
<rect x="250.09" y="103.54" width="1.1" height="1.1"/>
<rect x="264.68" y="96.01" width="1.1" height="1.1"/>
<rect x="243.05" y="106.46" width="1.1" height="1.1"/>
<rect x="263.68" y="102.35" width="1.1" height="1.1"/>
<rect x="255.74" y="103.48" width="1.1" height="1.1"/>
<rect x="278.46" y="105.74" width="1.1" height="1.1"/>
<rect x="245.93" y="105.96" width="1.1" height="1.1"/>
<rect x="271.08" y="101.64" width="1.1" height="1.1"/>
<rect x="263.18" y="104.1" width="1.1" height="1.1"/>
<rect x="274.63" y="103.17" width="1.1" height="1.1"/>
<rect x="252.05" y="108.56" width="1.1" height="1.1"/>
<rect x="250.09" y="102.26" width="1.1" height="1.1"/>
<rect x="269.05" y="104.04" width="1.1" height="1.1"/>
<rect x="248.35" y="106.03" width="1.1" height="1.1"/>
<rect x="249.55" y="108.22" width="1.1" height="1.1"/>
<rect x="250.09" y="108.61" width="1.1" height="1.1"/>
<rect x="240.25" y="106.6" width="1.1" height="1.1"/>
<rect x="259.19" y="100.76" width="1.1" height="1.1"/>
<rect x="269.05" y="105.44" width="1.1" height="1.1"/>
<rect x="263.18" y="100.21" width="1.1" height="1.1"/>
<rect x="254.3" y="104.88" width="1.1" height="1.1"/>
<rect x="274.03" y="102.28" width="1.1" height="1.1"/>
<rect x="260.67" y="104.23" width="1.1" height="1.1"/>
<rect x="237.45" y="104.51" width="1.1" height="1.1"/>
<rect x="241.33" y="110.93" width="1.1" height="1.1"/>
<rect x="252.95" y="105.83" width="1.1" height="1.1"/>
<rect x="261.16" y="106.75" width="1.1" height="1.1"/>
<rect x="240.25" y="106.67" width="1.1" height="1.1"/>
<rect x="265.68" y="102.6" width="1.1" height="1.1"/>
</g>
<polyline fill="none" stroke="#0808f8" stroke-width="2.0" stroke-linejoin="round" stroke-linecap="butt" stroke-dasharray="3,1.2" points="190.01,141.16 190.27,141.18 190.61,141.1 191,140.78 191.42,140.57 191.85,140.34 192.29,140.17 192.73,139.96 193.18,139.7 193.65,139.46 194.12,139.15 194.6,138.76 195.09,138.35 195.58,138.08 196.07,137.94 196.56,137.87 197.04,137.71 197.52,137.59 198,137.48 198.48,137.26 198.95,136.97 199.43,136.83 199.9,136.77 200.38,136.63 200.86,136.51 201.33,136.5 201.81,136.39 202.3,136.17 202.78,135.87 203.26,135.6 203.75,135.43 204.23,135.33 204.71,135.24 205.19,135.13 205.68,134.87 206.17,134.67 206.66,134.29 207.14,134.01 207.63,133.93 208.11,133.78 208.59,133.46 209.06,133.33 209.53,133.07 209.99,132.78 210.45,132.69 210.89,132.44 211.33,132.24 211.77,131.94 212.2,131.62 212.63,131.2 213.05,130.75 213.48,130.32 213.91,130.1 214.33,129.74 214.76,129.32 215.18,129.19 215.58,128.8 215.97,128.46 216.35,128.2 216.72,127.96 217.08,127.55 217.44,127.24 217.8,126.93 218.16,126.62 218.52,126.23 218.89,125.7 219.26,125.22 219.63,124.62 220,124.18 220.37,123.66 220.75,123.51 221.12,123.21 221.49,122.89 221.86,122.5 222.23,122.19 222.6,121.79 222.98,121.46 223.35,121.04 223.72,120.55 224.1,120.26 224.48,119.63 224.86,119.23 225.24,118.86 225.62,118.53 226,118.04 226.38,117.78 226.75,117.19 227.12,116.74 227.49,116.26 227.85,115.91 228.22,115.49 228.58,115.29 228.94,115.05 229.3,114.78 229.67,114.46 230.05,114.22 230.43,113.79 230.81,113.43 231.19,113.05 231.57,112.68 231.94,112.17 232.31,111.85 232.67,111.42 233.05,111.04 233.42,110.67 233.8,110.44 234.19,110.14 234.59,109.83 234.99,109.49 235.4,109.19 235.81,108.88 236.22,108.62 236.64,108.41 237.06,108.27 237.49,107.95 237.92,107.72 238.36,107.43 238.8,107.15 239.24,106.76 239.69,106.67 240.13,106.42 240.58,106.26 241.02,105.96 241.47,105.79 241.92,105.5 242.38,105.25 242.84,104.93 243.3,104.71 243.77,104.6 244.23,104.37 244.7,104.14 245.17,103.92 245.63,103.69 246.1,103.41 246.57,103.15 247.04,102.94 247.51,102.76 247.98,102.79 248.45,102.55 248.93,102.32 249.41,102.13 249.9,101.97 250.39,101.58 250.88,101.32 251.37,101.26 251.86,101.02 252.36,100.69 252.85,100.56 253.34,100.48 253.83,100.14 254.32,99.98 254.82,99.96 255.31,99.8 255.8,99.52 256.29,99.6 256.79,99.69 257.28,99.67 257.77,99.6 258.26,99.56 258.76,99.33 259.25,99.21 259.74,98.98 260.24,98.78 260.73,98.82 261.22,98.84 261.72,98.6 262.22,98.49 262.72,98.56 263.22,98.32 263.72,98.22 264.23,98.2 264.73,98.25 265.24,98.08 265.74,98.1 266.26,97.96 266.78,98.03 267.32,97.95 267.86,97.9 268.41,97.82 268.95,97.83 269.5,97.65 270.04,97.59 270.58,97.51 271.13,97.46 271.68,97.51 272.24,97.55 272.82,97.39 273.4,97.53 273.98,97.6 274.56,97.26 275.14,97.15 275.7,97.22 276.25,97.05 276.77,96.9 277.26,97.08 277.71,97.04 278.12,96.78 278.47,96.74 278.75,96.73 278.96,96.54"/>
<polyline fill="none" stroke="#000" stroke-width="2.0" stroke-linejoin="round" stroke-linecap="butt" points="190.14,136.92 190.47,136.83 190.89,136.71 191.39,136.83 191.93,137.01 192.48,137 193.02,136.79 193.54,136.78 194.01,136.59 194.43,136.28 194.81,135.9 195.13,135.56 195.42,135.43 195.69,134.85 195.93,134.14 196.17,133.81 196.4,133.04 196.62,131.96 196.83,131.6 197.03,131.38 197.22,130.91 197.41,130.66 197.6,130.32 197.79,130.23 197.98,129.65 198.17,128.95 198.37,128.72 198.56,128.53 198.74,127.58 198.93,126.75 199.12,126.66 199.3,125.92 199.49,125.16 199.67,124.79 199.86,124.48 200.04,123.86 200.22,123.3 200.4,122.88 200.58,122.43 200.76,122.16 200.93,121.43 201.1,120.96 201.27,120.68 201.44,120.11 201.62,119.58 201.79,119.23 201.96,118.83 202.13,118.03 202.3,117.53 202.46,116.89 202.63,116.27 202.79,115.99 202.94,115.44 203.09,114.85 203.24,114.42 203.38,114.16 203.52,113.32 203.65,112.95 203.78,112.46 203.91,111.77 204.03,111.3 204.15,110.9 204.28,110.38 204.41,110.03 204.55,109.8 204.7,109.33 204.86,108.9 205.03,108.52 205.21,108.08 205.41,107.62 205.62,107.04 205.84,106.36 206.06,105.87 206.3,105.29 206.55,104.92 206.8,104.41 207.06,104.03 207.32,103.77 207.59,103.33 207.87,102.73 208.15,102.28 208.44,102.01 208.73,101.54 209.03,101.07 209.33,100.51 209.63,100.22 209.95,99.72 210.26,99.2 210.59,99.04 210.92,98.62 211.25,98.25 211.59,97.86 211.94,97.38 212.29,96.8 212.64,96.85 213,96.43 213.36,96.18 213.73,95.81 214.1,95.73 214.48,94.94 214.86,94.45 215.25,94.21 215.64,94.11 216.04,93.53 216.44,93.43 216.86,93.1 217.28,92.41 217.72,92.03 218.16,91.73 218.6,91.39 219.04,91.18 219.49,90.9 219.93,90.48 220.37,90.07 220.83,89.76 221.3,89.53 221.78,89.56 222.26,89.67 222.75,89.54 223.22,89.48 223.68,89.31 224.13,89.1 224.57,88.49 225.02,88.43 225.49,88.13 225.97,87.84 226.46,87.58 226.96,87.37 227.48,87.09 227.99,86.93 228.51,86.7 229.02,86.57 229.51,86.72 230,86.62 230.48,86.36 230.95,86.33 231.41,86.1 231.88,85.75 232.35,85.57 232.83,85.77 233.31,85.71 233.8,85.73 234.3,85.82 234.8,85.55 235.32,85.27 235.84,85.19 236.36,84.96 236.88,84.62 237.39,84.82 237.9,84.64 238.39,84.59 238.87,84.48 239.33,84.54 239.8,84.51 240.26,84.58 240.73,84.5 241.2,84.44 241.67,84.62 242.15,84.27 242.64,83.97 243.13,83.73 243.63,83.85 244.13,83.53 244.64,83.82 245.15,83.92 245.67,83.94 246.19,83.57 246.72,83.39 247.25,83.06 247.78,82.74 248.3,82.45 248.81,82.34 249.31,82.25 249.8,82.28 250.28,82.42 250.76,82.5 251.24,82.65 251.72,82.55 252.2,82.33 252.68,82.15 253.17,81.93 253.66,81.75 254.16,81.68 254.66,81.66 255.16,81.76 255.67,81.87 256.18,81.88 256.7,82 257.22,81.93 257.75,81.66 258.28,81.32 258.82,81.42 259.36,81.35 259.9,81.04 260.45,81.15 261,81.28 261.55,81.06 262.09,81 262.62,81.14 263.15,80.87 263.67,80.8 264.19,80.88 264.72,80.69 265.25,80.56 265.8,80.7 266.36,81 266.92,80.73 267.5,80.96 268.08,81.12 268.66,81.13 269.25,81.02 269.84,80.98 270.43,80.78 271.02,80.67 271.61,80.65 272.19,80.45 272.77,80.56 273.34,80.64 273.9,80.61 274.45,80.52 274.99,80.4 275.51,80.5 276.02,80.47 276.51,80.7 276.98,80.45 277.43,80.4 277.86,80.19 278.27,80.2 278.64,79.9 278.98,79.95 279.27,80.28 279.52,80.27 279.7,80.13"/>
<line x1="363.75" y1="44.5" x2="363.75" y2="147.15" stroke="#141414" stroke-width="1.3"/>
<line x1="363.15" y1="146.55" x2="512.8" y2="146.55" stroke="#141414" stroke-width="1.25"/>
<line x1="360.75" y1="146.55" x2="363.75" y2="146.55" stroke="#141414" stroke-width="1.25"/>
<text transform="translate(358.3,149.6) scale(0.92,1)" font-size="8.6" text-anchor="end" font-weight="normal">0</text>
<line x1="360.75" y1="126.54" x2="363.75" y2="126.54" stroke="#222" stroke-width="0.95"/>
<text transform="translate(358.3,129.84) scale(0.92,1)" font-size="8.6" text-anchor="end" font-weight="normal">20</text>
<line x1="360.75" y1="106.78" x2="363.75" y2="106.78" stroke="#222" stroke-width="0.95"/>
<text transform="translate(358.3,110.08) scale(0.92,1)" font-size="8.6" text-anchor="end" font-weight="normal">40</text>
<line x1="360.75" y1="87.02" x2="363.75" y2="87.02" stroke="#222" stroke-width="0.95"/>
<text transform="translate(358.3,90.32) scale(0.92,1)" font-size="8.6" text-anchor="end" font-weight="normal">60</text>
<line x1="360.75" y1="67.26" x2="363.75" y2="67.26" stroke="#222" stroke-width="0.95"/>
<text transform="translate(358.3,70.56) scale(0.92,1)" font-size="8.6" text-anchor="end" font-weight="normal">80</text>
<line x1="360.75" y1="47.5" x2="363.75" y2="47.5" stroke="#222" stroke-width="0.95"/>
<text transform="translate(358.3,50.8) scale(0.92,1)" font-size="8.6" text-anchor="end" font-weight="normal">100</text>
<line x1="380.5" y1="146.55" x2="380.5" y2="149.75" stroke="#222" stroke-width="0.95"/>
<text transform="translate(380.5,159.8) scale(0.92,1)" font-size="8.6" text-anchor="middle" font-weight="normal">0.0</text>
<line x1="419" y1="146.55" x2="419" y2="149.75" stroke="#222" stroke-width="0.95"/>
<text transform="translate(419,159.8) scale(0.92,1)" font-size="8.6" text-anchor="middle" font-weight="normal">0.5</text>
<line x1="457.5" y1="146.55" x2="457.5" y2="149.75" stroke="#222" stroke-width="0.95"/>
<text transform="translate(457.5,159.8) scale(0.92,1)" font-size="8.6" text-anchor="middle" font-weight="normal">1.0</text>
<line x1="496" y1="146.55" x2="496" y2="149.75" stroke="#222" stroke-width="0.95"/>
<text transform="translate(496,159.8) scale(0.92,1)" font-size="8.6" text-anchor="middle" font-weight="normal">5.0</text>
<line x1="373.2" y1="70.42" x2="373.2" y2="67.95" stroke="#111" stroke-width="1.0"/>
<line x1="370.6" y1="67.95" x2="375.8" y2="67.95" stroke="#111" stroke-width="1.15"/>
<rect x="369.15" y="70.72" width="8.1" height="75.58" fill="#dc8916" stroke="#d17e0e" stroke-width="0.6"/>
<line x1="387.8" y1="72.2" x2="387.8" y2="70.32" stroke="#111" stroke-width="1.0"/>
<line x1="385.2" y1="70.32" x2="390.4" y2="70.32" stroke="#111" stroke-width="1.15"/>
<rect x="383.75" y="72.5" width="8.1" height="73.8" fill="#8a81bf" stroke="#7e75b6" stroke-width="0.6"/>
<line x1="411.7" y1="112.12" x2="411.7" y2="109.15" stroke="#111" stroke-width="1.0"/>
<line x1="409.1" y1="109.15" x2="414.3" y2="109.15" stroke="#111" stroke-width="1.15"/>
<rect x="407.65" y="112.42" width="8.1" height="33.88" fill="#dc8916" stroke="#d17e0e" stroke-width="0.6"/>
<line x1="426.3" y1="83.07" x2="426.3" y2="78.33" stroke="#111" stroke-width="1.0"/>
<line x1="423.7" y1="78.33" x2="428.9" y2="78.33" stroke="#111" stroke-width="1.15"/>
<rect x="422.25" y="83.37" width="8.1" height="62.93" fill="#8a81bf" stroke="#7e75b6" stroke-width="0.6"/>
<line x1="450.2" y1="121.11" x2="450.2" y2="118.64" stroke="#111" stroke-width="1.0"/>
<line x1="447.6" y1="118.64" x2="452.8" y2="118.64" stroke="#111" stroke-width="1.15"/>
<rect x="446.15" y="121.41" width="8.1" height="24.89" fill="#dc8916" stroke="#d17e0e" stroke-width="0.6"/>
<line x1="464.8" y1="107.97" x2="464.8" y2="99.86" stroke="#111" stroke-width="1.0"/>
<line x1="462.2" y1="99.86" x2="467.4" y2="99.86" stroke="#111" stroke-width="1.15"/>
<rect x="460.75" y="108.27" width="8.1" height="38.03" fill="#8a81bf" stroke="#7e75b6" stroke-width="0.6"/>
<line x1="488.7" y1="133.85" x2="488.7" y2="133.16" stroke="#111" stroke-width="1.0"/>
<line x1="486.1" y1="133.16" x2="491.3" y2="133.16" stroke="#111" stroke-width="1.15"/>
<rect x="484.65" y="134.15" width="8.1" height="12.15" fill="#dc8916" stroke="#d17e0e" stroke-width="0.6"/>
<line x1="503.3" y1="134.15" x2="503.3" y2="130.49" stroke="#111" stroke-width="1.0"/>
<line x1="500.7" y1="130.49" x2="505.9" y2="130.49" stroke="#111" stroke-width="1.15"/>
<rect x="499.25" y="134.45" width="8.1" height="11.85" fill="#8a81bf" stroke="#7e75b6" stroke-width="0.6"/>
<line x1="388" y1="55.5" x2="503.4" y2="55.5" stroke="#3a3a3a" stroke-width="1.1"/>
<line x1="388" y1="53.9" x2="388" y2="57.1" stroke="#333" stroke-width="1.0"/>
<line x1="503.4" y1="53.9" x2="503.4" y2="57.1" stroke="#333" stroke-width="1.0"/>
<rect x="440.82" y="51.85" width="1.5" height="1.5" fill="#1a1a1a"/>
<rect x="443.57" y="51.85" width="1.5" height="1.5" fill="#1a1a1a"/>
<rect x="446.32" y="51.85" width="1.5" height="1.5" fill="#1a1a1a"/>
<rect x="449.07" y="51.85" width="1.5" height="1.5" fill="#1a1a1a"/>
<line x1="388" y1="64.5" x2="464.9" y2="64.5" stroke="#3a3a3a" stroke-width="1.1"/>
<line x1="388" y1="62.9" x2="388" y2="66.1" stroke="#333" stroke-width="1.0"/>
<line x1="464.9" y1="62.9" x2="464.9" y2="66.1" stroke="#333" stroke-width="1.0"/>
<rect x="421.57" y="60.85" width="1.5" height="1.5" fill="#1a1a1a"/>
<rect x="424.32" y="60.85" width="1.5" height="1.5" fill="#1a1a1a"/>
<rect x="427.07" y="60.85" width="1.5" height="1.5" fill="#1a1a1a"/>
<rect x="429.82" y="60.85" width="1.5" height="1.5" fill="#1a1a1a"/>
<text class="c" transform="translate(336.4,95.9) rotate(-90) scale(0.76,1)" font-size="9.0" text-anchor="middle">Final aggregation (%)</text>
<text class="c" transform="translate(438,172.75) scale(0.76,1)" font-size="9.0" text-anchor="middle">DPA<tspan font-size="6.6" dy="1.8">n-6</tspan><tspan dy="-1.8"> (µM)</tspan></text>
<rect x="394" y="29" width="7.7" height="7" fill="#dc8916"/>
<text x="404.2" y="35.4" font-size="8.0" text-anchor="start" font-weight="normal">WT</text>
<rect x="427.8" y="29" width="7.4" height="7" fill="#8a81bf"/>
<text transform="translate(438.2,35.4) scale(0.92,1)" font-size="8.5">PPARα<tspan font-size="5.4" dy="-4.0">-/-</tspan></text>
<text x="7" y="204.1" font-size="12" text-anchor="start" font-weight="bold" class="b">B</text>
<text x="140.2" y="204.1" font-size="9.5">11-HpDPA<tspan font-size="7.2" dy="2.5">n-6</tspan></text>
<line x1="53.35" y1="222.4" x2="53.35" y2="318.05" stroke="#141414" stroke-width="1.3"/>
<line x1="52.75" y1="314.85" x2="146.2" y2="314.85" stroke="#141414" stroke-width="1.25"/>
<line x1="50.1" y1="306.8" x2="53.2" y2="306.8" stroke="#222" stroke-width="0.95"/>
<text transform="translate(46.8,310.1) scale(0.92,1)" font-size="8.6" text-anchor="end" font-weight="normal">0</text>
<line x1="50.1" y1="290.46" x2="53.2" y2="290.46" stroke="#222" stroke-width="0.95"/>
<text transform="translate(46.8,293.76) scale(0.92,1)" font-size="8.6" text-anchor="end" font-weight="normal">20</text>
<line x1="50.1" y1="274.12" x2="53.2" y2="274.12" stroke="#222" stroke-width="0.95"/>
<text transform="translate(46.8,277.42) scale(0.92,1)" font-size="8.6" text-anchor="end" font-weight="normal">40</text>
<line x1="50.1" y1="257.78" x2="53.2" y2="257.78" stroke="#222" stroke-width="0.95"/>
<text transform="translate(46.8,261.08) scale(0.92,1)" font-size="8.6" text-anchor="end" font-weight="normal">60</text>
<line x1="50.1" y1="241.44" x2="53.2" y2="241.44" stroke="#222" stroke-width="0.95"/>
<text transform="translate(46.8,244.74) scale(0.92,1)" font-size="8.6" text-anchor="end" font-weight="normal">80</text>
<line x1="50.1" y1="225.1" x2="53.2" y2="225.1" stroke="#222" stroke-width="0.95"/>
<text transform="translate(46.8,228.4) scale(0.92,1)" font-size="8.6" text-anchor="end" font-weight="normal">100</text>
<line x1="71.15" y1="314.85" x2="71.15" y2="318.05" stroke="#222" stroke-width="0.95"/>
<line x1="89.1" y1="314.85" x2="89.1" y2="318.05" stroke="#222" stroke-width="0.95"/>
<line x1="107.05" y1="314.85" x2="107.05" y2="318.05" stroke="#222" stroke-width="0.95"/>
<line x1="125" y1="314.85" x2="125" y2="318.05" stroke="#222" stroke-width="0.95"/>
<line x1="142.95" y1="314.85" x2="142.95" y2="318.05" stroke="#222" stroke-width="0.95"/>
<text transform="translate(53.2,328) scale(0.92,1)" font-size="8.6" text-anchor="middle" font-weight="normal">0</text>
<text transform="translate(71.15,328) scale(0.92,1)" font-size="8.6" text-anchor="middle" font-weight="normal">1</text>
<text transform="translate(89.1,328) scale(0.92,1)" font-size="8.6" text-anchor="middle" font-weight="normal">2</text>
<text transform="translate(107.05,328) scale(0.92,1)" font-size="8.6" text-anchor="middle" font-weight="normal">3</text>
<text transform="translate(125,328) scale(0.92,1)" font-size="8.6" text-anchor="middle" font-weight="normal">4</text>
<text transform="translate(142.95,328) scale(0.92,1)" font-size="8.6" text-anchor="middle" font-weight="normal">5</text>
<text transform="translate(99.4,341.2) scale(0.76,1)" font-size="9.0" text-anchor="middle" font-weight="normal" class="c">Time (min)</text>
<text class="c" transform="translate(26.6,268.7) rotate(-90) scale(0.76,1)" font-size="9.0" text-anchor="middle">Aggregation (%)</text>
<text x="99.3" y="216.7" font-size="7.9" text-anchor="middle">Wild-type</text>
<polyline fill="none" stroke="#2c760a" stroke-width="1.6" stroke-linejoin="round" stroke-linecap="butt" points="53.8,306.61 53.99,306.63 54.24,306.51 54.53,306.45 54.88,306.37 55.26,306.39 55.67,306.28 56.11,306.25 56.57,306.21 57.05,306.1 57.55,306 58.06,305.98 58.6,305.78 59.14,305.76 59.7,305.81 60.27,305.56 60.84,305.5 61.43,305.42 62.01,305.14 62.6,305.01 63.19,304.97 63.78,304.8 64.37,304.75 64.96,304.73 65.53,304.56 66.1,304.43 66.66,304.36 67.2,304.34 67.74,304.36 68.26,304.43 68.77,304.51 69.27,304.47 69.77,304.31 70.27,304.05 70.78,303.88 71.28,303.75 71.79,303.63 72.3,303.62 72.81,303.72 73.32,303.68 73.83,303.71 74.35,303.72 74.86,303.72 75.38,303.7 75.9,303.75 76.41,303.64 76.93,303.54 77.44,303.45 77.96,303.41 78.47,303.18 78.98,303.2 79.49,303.16 80,303.14 80.51,303.05 81.01,303.1 81.52,302.96 82.02,302.92 82.52,302.86 83.02,302.73 83.52,302.7 84.03,302.66 84.53,302.59 85.04,302.45 85.54,302.37 86.05,302.34 86.55,302.33 87.05,302.29 87.54,302.29 88.04,302.38 88.53,302.31 89.03,302.26 89.52,302.23 90.01,302.22 90.5,302.1 90.99,301.99 91.48,301.96 91.97,301.94 92.46,301.81 92.96,301.78 93.45,301.8 93.95,301.73 94.44,301.81 94.94,301.82 95.45,301.76 95.95,301.68 96.46,301.58 96.97,301.21 97.47,301.13 97.98,301.07 98.48,300.98 98.98,300.97 99.48,301.09 99.98,301.12 100.48,301.2 100.98,301.22 101.49,301.11 101.99,300.98 102.5,300.94 103.01,300.73 103.52,300.67 104.03,300.71 104.54,300.72 105.06,300.61 105.57,300.61 106.08,300.45 106.6,300.35 107.12,300.33 107.63,300.2 108.15,300.06 108.66,300.14 109.18,300.09 109.7,300.03 110.21,299.95 110.73,299.99 111.24,299.86 111.75,299.88 112.27,299.9 112.78,299.94 113.29,299.95 113.8,299.91 114.31,299.82 114.82,299.71 115.33,299.67 115.84,299.65 116.36,299.69 116.87,299.61 117.38,299.48 117.9,299.46 118.41,299.25 118.92,299.27 119.44,299.29 119.95,299.3 120.47,299.31 120.98,299.38 121.49,299.36 122,299.43 122.51,299.48 123.02,299.49 123.53,299.54 124.04,299.47 124.55,299.37 125.05,299.37 125.55,299.33 126.05,299.29 126.55,299.32 127.05,299.4 127.54,299.33 128.04,299.35 128.54,299.22 129.05,299.07 129.57,298.96 130.09,298.9 130.64,298.76 131.19,298.76 131.76,298.79 132.33,298.66 132.91,298.69 133.5,298.77 134.08,298.68 134.67,298.64 135.25,298.72 135.84,298.6 136.42,298.53 136.99,298.58 137.55,298.56 138.1,298.53 138.64,298.59 139.17,298.39 139.69,298.42 140.18,298.45 140.66,298.33 141.11,298.41 141.55,298.5 141.96,298.37 142.33,298.19 142.67,298.31 142.97,298.19 143.21,298.16 143.4,298.19"/>
<polyline fill="none" stroke="#f40808" stroke-width="1.6" stroke-linejoin="round" stroke-linecap="butt" stroke-dasharray="1.3,0.9" points="53.79,305.73 53.97,305.9 54.21,305.94 54.49,305.98 54.82,305.95 55.18,305.99 55.58,305.84 55.99,305.76 56.43,305.66 56.89,305.48 57.37,305.24 57.86,305.15 58.37,304.96 58.89,304.89 59.43,304.82 59.97,304.81 60.52,304.81 61.08,304.92 61.65,304.81 62.22,304.73 62.79,304.65 63.36,304.46 63.93,304.3 64.49,304.29 65.06,304.21 65.61,304.17 66.16,304.08 66.7,303.92 67.23,303.77 67.76,303.69 68.27,303.45 68.77,303.42 69.27,303.44 69.77,303.44 70.27,303.46 70.78,303.52 71.28,303.53 71.79,303.35 72.3,303.24 72.81,303.01 73.32,303.08 73.83,303.11 74.35,303.12 74.86,303.06 75.38,303.16 75.9,302.89 76.41,302.79 76.93,302.9 77.44,302.77 77.96,302.65 78.47,302.74 78.98,302.7 79.49,302.54 80,302.62 80.51,302.61 81.01,302.49 81.52,302.32 82.02,302.2 82.52,302.1 83.02,302.16 83.52,301.97 84.03,302.02 84.53,301.9 85.04,301.79 85.54,301.5 86.05,301.51 86.55,301.43 87.05,301.44 87.54,301.48 88.04,301.51 88.53,301.52 89.03,301.34 89.52,301.34 90.01,301.26 90.5,301.19 90.99,301.21 91.48,301.36 91.97,301.26 92.46,301.33 92.96,301.38 93.45,301.32 93.95,301.21 94.44,301.21 94.94,301.04 95.45,301.05 95.95,300.88 96.46,300.78 96.97,300.76 97.47,300.62 97.98,300.52 98.48,300.48 98.98,300.42 99.48,300.35 99.98,300.42 100.48,300.34 100.98,300.28 101.49,300.19 101.99,300.08 102.5,299.99 103.01,299.87 103.52,299.93 104.03,300.04 104.54,299.9 105.06,299.85 105.57,299.91 106.08,299.62 106.6,299.52 107.12,299.57 107.63,299.59 108.15,299.54 108.66,299.72 109.18,299.53 109.7,299.51 110.21,299.43 110.73,299.36 111.24,299.13 111.75,299.11 112.27,299.08 112.78,299.09 113.29,299.12 113.8,299.07 114.31,299.17 114.82,299.07 115.33,298.94 115.84,298.78 116.36,298.9 116.87,298.85 117.38,298.79 117.9,298.81 118.41,298.82 118.92,298.7 119.44,298.66 119.95,298.64 120.47,298.54 120.98,298.5 121.49,298.53 122,298.4 122.51,298.41 123.02,298.49 123.53,298.48 124.04,298.47 124.55,298.5 125.05,298.57 125.55,298.55 126.05,298.52 126.55,298.53 127.05,298.45 127.54,298.37 128.04,298.19 128.54,298.14 129.05,298.26 129.57,298.23 130.09,298.29 130.64,298.35 131.19,298.37 131.76,298.01 132.33,298.04 132.91,297.83 133.5,297.74 134.08,297.64 134.67,297.72 135.25,297.79 135.84,297.96 136.42,297.86 136.99,297.85 137.55,297.79 138.1,297.65 138.64,297.4 139.17,297.39 139.69,297.38 140.18,297.35 140.66,297.38 141.11,297.45 141.55,297.53 141.96,297.48 142.33,297.56 142.67,297.55 142.97,297.55 143.21,297.48 143.4,297.54"/>
<polyline fill="none" stroke="#0808f8" stroke-width="2.0" stroke-linejoin="round" stroke-linecap="butt" stroke-dasharray="9,0.6" points="53.85,306.61 54.07,306.39 54.37,305.89 54.74,305.88 55.17,305.74 55.65,305.6 56.16,305.8 56.7,306 57.25,305.67 57.81,305.89 58.36,305.2 58.91,304.76 59.45,304.31 59.98,304.67 60.5,304.14 61.02,304.39 61.54,304.48 62.06,304.77 62.57,304.38 63.06,304.22 63.55,304.07 64.02,303.52 64.49,303.1 64.96,302.61 65.43,301.96 65.9,301.72 66.37,301.65 66.84,301.5 67.31,301.42 67.79,301.6 68.28,301.26 68.76,301.34 69.24,300.97 69.71,300.8 70.18,300.63 70.64,300.7 71.09,300.36 71.54,299.88 71.99,299.57 72.44,299.58 72.9,299.36 73.36,298.88 73.82,299.18 74.29,299 74.75,298.56 75.2,297.89 75.65,297.76 76.1,297.24 76.54,296.35 76.98,295.81 77.42,295.31 77.86,294.53 78.3,294.12 78.74,294.34 79.17,294.08 79.6,293.73 80.03,293.49 80.45,293.28 80.87,292.75 81.29,292.5 81.72,292.44 82.16,292.44 82.62,291.87 83.09,291.52 83.57,290.94 84.04,290.79 84.52,290.54 84.99,290.7 85.47,291.11 85.94,291.24 86.42,290.51 86.89,290.11 87.36,289.98 87.84,289.45 88.32,289.22 88.82,289.42 89.31,289.59 89.82,289.24 90.32,289.2 90.81,289.35 91.29,289.69 91.75,289.66 92.2,289.24 92.63,289.02 93.05,288.42 93.48,287.86 93.92,287.39 94.38,287.27 94.87,286.87 95.4,287.26 95.96,287.26 96.53,287.6 97.11,287.74 97.66,287.45 98.18,286.93 98.66,287.18 99.12,286.99 99.56,286.85 99.99,287.08 100.43,287.36 100.88,287.06 101.34,286.72 101.81,286.9 102.29,286.87 102.78,286.35 103.28,285.87 103.79,285.43 104.3,285.58 104.82,285.52 105.35,285.96 105.87,286.2 106.41,286.53 106.94,286.03 107.48,285.95 108.02,285.27 108.56,285.14 109.1,285.23 109.63,285.53 110.17,285.32 110.7,285.58 111.23,285.65 111.75,285.67 112.27,285.27 112.78,285.22 113.3,285.41 113.8,285.26 114.31,284.92 114.82,285.32 115.33,285.03 115.84,284.62 116.36,284.3 116.87,284.51 117.38,283.71 117.9,283.98 118.41,284.01 118.92,284.1 119.44,283.74 119.95,283.78 120.47,283.56 120.98,283.27 121.49,283.32 122,283.23 122.51,283.06 123.02,283.06 123.53,283.6 124.04,283.27 124.55,283.18 125.05,283.22 125.55,283.25 126.05,282.94 126.55,282.99 127.05,283.11 127.54,283.26 128.04,283.54 128.54,283.23 129.05,283.19 129.57,283.22 130.09,283.07 130.64,282.58 131.19,282.59 131.76,282.93 132.33,282.43 132.91,282.34 133.5,282.73 134.08,282.8 134.67,282.33 135.25,282.47 135.84,282.66 136.42,282.36 136.99,282.16 137.55,282.15 138.1,281.96 138.64,281.46 139.17,281.4 139.69,281.53 140.18,281.5 140.66,281.85 141.11,281.93 141.55,281.89 141.96,281.36 142.33,281.58 142.67,281.78 142.97,282.05 143.21,281.95 143.4,282.42"/>
<polyline fill="none" stroke="#000" stroke-width="2.0" stroke-linejoin="round" stroke-linecap="butt" points="53.54,310.09 53.63,309.81 53.75,309.42 53.91,309.05 54.11,308.64 54.33,308.23 54.58,307.8 54.87,307.47 55.18,306.98 55.52,306.64 55.88,306.14 56.26,305.8 56.65,305.4 57.05,305.14 57.45,304.64 57.86,304.49 58.28,304.16 58.69,303.86 59.11,303.58 59.52,303.36 59.93,302.99 60.32,302.71 60.7,302.38 61.06,302.02 61.41,301.66 61.74,301.27 62.05,300.85 62.34,300.42 62.61,299.99 62.86,299.56 63.08,299.11 63.27,298.65 63.46,298.16 63.63,297.72 63.79,297.28 63.96,296.69 64.12,296.19 64.27,295.71 64.43,295.17 64.58,294.7 64.73,294.26 64.87,293.71 65.01,293.16 65.15,292.62 65.27,292.03 65.39,291.55 65.51,291.05 65.62,290.53 65.72,290.01 65.82,289.41 65.91,288.87 66,288.44 66.1,287.99 66.18,287.45 66.27,286.93 66.36,286.37 66.45,285.76 66.53,285.37 66.62,284.9 66.72,284.45 66.81,283.98 66.9,283.49 67,282.94 67.09,282.51 67.18,282.03 67.28,281.56 67.37,281.14 67.47,280.72 67.57,280.34 67.67,279.93 67.79,279.48 67.91,278.98 68.03,278.34 68.16,277.64 68.29,277.03 68.43,276.54 68.57,276.05 68.72,275.65 68.87,275.27 69.02,274.83 69.18,274.21 69.34,273.75 69.51,273.18 69.67,272.57 69.84,272.1 70.01,271.66 70.18,271.06 70.35,270.54 70.52,270.08 70.68,269.53 70.85,268.99 71.01,268.46 71.18,267.97 71.35,267.52 71.53,267.01 71.71,266.55 71.9,266.04 72.08,265.48 72.26,265.01 72.44,264.48 72.62,264.12 72.8,263.67 72.98,263.23 73.16,262.69 73.34,262.36 73.54,261.82 73.73,261.41 73.94,260.97 74.15,260.51 74.36,260.03 74.57,259.57 74.79,259.12 75.02,258.64 75.25,258.19 75.48,257.7 75.73,257.37 75.98,257.04 76.24,256.61 76.51,256.2 76.78,255.67 77.06,255.15 77.34,254.64 77.63,254.32 77.92,253.95 78.22,253.59 78.52,253.14 78.83,252.66 79.14,252.33 79.46,251.85 79.78,251.57 80.12,251.28 80.46,251.04 80.82,250.52 81.19,250.27 81.57,249.91 81.96,249.59 82.35,249.28 82.74,249.02 83.15,248.8 83.56,248.46 83.98,248.19 84.42,247.94 84.86,247.77 85.31,247.51 85.76,247.3 86.21,246.98 86.66,246.69 87.1,246.43 87.54,246 87.99,245.79 88.43,245.66 88.88,245.33 89.33,245.09 89.78,244.92 90.24,244.66 90.7,244.31 91.16,244.14 91.62,243.87 92.07,243.62 92.51,243.3 92.95,243.07 93.37,242.82 93.77,242.62 94.16,242.37 94.54,242.2 94.92,241.98 95.31,241.81 95.7,241.57 96.12,241.39 96.56,241.14 97.03,240.89 97.52,240.49 98.04,240.27 98.55,240 99.06,239.77 99.55,239.7 100.01,239.67 100.46,239.44 100.9,239.43 101.34,239.34 101.78,239.23 102.24,239.06 102.71,238.93 103.19,238.73 103.68,238.69 104.17,238.42 104.68,238.32 105.2,238.35 105.72,238.41 106.24,238.26 106.78,238.22 107.31,238.15 107.85,237.97 108.4,237.82 108.94,237.78 109.49,237.69 110.03,237.67 110.58,237.5 111.12,237.34 111.66,237.21 112.19,237.17 112.72,236.99 113.25,236.99 113.76,236.82 114.27,236.77 114.78,236.66 115.28,236.67 115.78,236.68 116.29,236.67 116.79,236.52 117.3,236.51 117.81,236.46 118.32,236.28 118.83,236.25 119.35,236.21 119.86,236.22 120.38,236.15 120.89,236.08 121.41,236 121.93,236.01 122.44,235.85 122.96,235.79 123.47,235.85 123.99,235.84 124.5,235.77 125.01,235.83 125.52,235.83 126.03,235.75 126.53,235.69 127.03,235.64 127.53,235.45 128.03,235.35 128.54,235.33 129.05,235.29 129.56,235.24 130.09,235.12 130.64,235.01 131.19,235.03 131.76,234.93 132.33,234.99 132.91,235.17 133.5,235.24 134.08,235.18 134.67,235.31 135.25,235.26 135.84,235.21 136.42,235.25 136.99,235.24 137.55,235.3 138.1,235.23 138.64,235.21 139.17,235.14 139.69,235.15 140.18,235 140.66,235.16 141.11,235.22 141.55,235.13 141.96,235.12 142.33,235.18 142.67,235.14 142.97,235.13 143.21,235.18 143.4,235.23"/>
<line x1="189.7" y1="222.4" x2="189.7" y2="318.05" stroke="#141414" stroke-width="1.3"/>
<line x1="189.1" y1="314.85" x2="282.5" y2="314.85" stroke="#141414" stroke-width="1.25"/>
<line x1="186.4" y1="306.8" x2="189.5" y2="306.8" stroke="#222" stroke-width="0.95"/>
<text transform="translate(183.1,310.1) scale(0.92,1)" font-size="8.6" text-anchor="end" font-weight="normal">0</text>
<line x1="186.4" y1="290.46" x2="189.5" y2="290.46" stroke="#222" stroke-width="0.95"/>
<text transform="translate(183.1,293.76) scale(0.92,1)" font-size="8.6" text-anchor="end" font-weight="normal">20</text>
<line x1="186.4" y1="274.12" x2="189.5" y2="274.12" stroke="#222" stroke-width="0.95"/>
<text transform="translate(183.1,277.42) scale(0.92,1)" font-size="8.6" text-anchor="end" font-weight="normal">40</text>
<line x1="186.4" y1="257.78" x2="189.5" y2="257.78" stroke="#222" stroke-width="0.95"/>
<text transform="translate(183.1,261.08) scale(0.92,1)" font-size="8.6" text-anchor="end" font-weight="normal">60</text>
<line x1="186.4" y1="241.44" x2="189.5" y2="241.44" stroke="#222" stroke-width="0.95"/>
<text transform="translate(183.1,244.74) scale(0.92,1)" font-size="8.6" text-anchor="end" font-weight="normal">80</text>
<line x1="186.4" y1="225.1" x2="189.5" y2="225.1" stroke="#222" stroke-width="0.95"/>
<text transform="translate(183.1,228.4) scale(0.92,1)" font-size="8.6" text-anchor="end" font-weight="normal">100</text>
<line x1="207.45" y1="314.85" x2="207.45" y2="318.05" stroke="#222" stroke-width="0.95"/>
<line x1="225.4" y1="314.85" x2="225.4" y2="318.05" stroke="#222" stroke-width="0.95"/>
<line x1="243.35" y1="314.85" x2="243.35" y2="318.05" stroke="#222" stroke-width="0.95"/>
<line x1="261.3" y1="314.85" x2="261.3" y2="318.05" stroke="#222" stroke-width="0.95"/>
<line x1="279.25" y1="314.85" x2="279.25" y2="318.05" stroke="#222" stroke-width="0.95"/>
<text transform="translate(189.5,328) scale(0.92,1)" font-size="8.6" text-anchor="middle" font-weight="normal">0</text>
<text transform="translate(207.45,328) scale(0.92,1)" font-size="8.6" text-anchor="middle" font-weight="normal">1</text>
<text transform="translate(225.4,328) scale(0.92,1)" font-size="8.6" text-anchor="middle" font-weight="normal">2</text>
<text transform="translate(243.35,328) scale(0.92,1)" font-size="8.6" text-anchor="middle" font-weight="normal">3</text>
<text transform="translate(261.3,328) scale(0.92,1)" font-size="8.6" text-anchor="middle" font-weight="normal">4</text>
<text transform="translate(279.25,328) scale(0.92,1)" font-size="8.6" text-anchor="middle" font-weight="normal">5</text>
<text transform="translate(235.7,341.2) scale(0.76,1)" font-size="9.0" text-anchor="middle" font-weight="normal" class="c">Time (min)</text>
<text class="c" transform="translate(162.9,268.7) rotate(-90) scale(0.76,1)" font-size="9.0" text-anchor="middle">Aggregation (%)</text>
<text transform="translate(220.9,216.9) scale(0.92,1)" font-size="8.5">PPARα<tspan font-size="5.4" dy="-3.9">-/-</tspan></text>
<polyline fill="none" stroke="#2c760a" stroke-width="1.8" stroke-linejoin="round" stroke-linecap="butt" points="189.94,306.73 190.15,306.91 190.44,306.89 190.79,306.95 191.19,306.85 191.65,306.88 192.14,306.7 192.66,306.76 193.21,306.74 193.78,306.81 194.36,306.76 194.95,306.77 195.55,306.71 196.14,306.64 196.73,306.55 197.31,306.51 197.88,306.6 198.44,306.6 198.99,306.71 199.52,306.75 200.05,306.72 200.58,306.71 201.11,306.85 201.63,306.88 202.14,306.98 202.65,307.1 203.14,307.14 203.63,307.16 204.11,307.06 204.58,306.96 205.06,306.85 205.54,306.8 206.02,306.65 206.5,306.68 206.99,306.7 207.48,306.84 207.97,306.85 208.46,306.9 208.95,306.88 209.44,306.8 209.94,306.69 210.43,306.57 210.93,306.43 211.43,306.3 211.93,306.14 212.43,305.91 212.93,305.8 213.42,305.57 213.91,305.46 214.39,305.35 214.87,305.23 215.35,304.98 215.83,304.88 216.3,304.65 216.78,304.45 217.25,304.32 217.72,304.09 218.19,303.91 218.65,303.78 219.1,303.63 219.55,303.27 220,303.15 220.45,302.9 220.9,302.66 221.35,302.37 221.8,302.17 222.25,301.88 222.71,301.6 223.16,301.25 223.62,300.94 224.08,300.68 224.54,300.39 225,300.06 225.46,299.87 225.91,299.59 226.37,299.41 226.83,299.25 227.29,299.16 227.75,298.99 228.21,298.9 228.67,298.74 229.13,298.41 229.59,298.05 230.05,297.69 230.51,297.29 230.97,296.97 231.44,296.58 231.9,296.35 232.37,296.13 232.84,295.93 233.3,295.63 233.75,295.42 234.2,295.12 234.63,294.8 235.06,294.53 235.47,294.26 235.87,294.14 236.27,293.85 236.66,293.61 237.05,293.45 237.43,293.23 237.83,292.9 238.24,292.75 238.69,292.46 239.16,292.15 239.64,291.8 240.12,291.6 240.57,291.36 241,291.13 241.41,290.88 241.82,290.73 242.24,290.46 242.68,290.27 243.12,290.06 243.58,289.91 244.06,289.74 244.54,289.62 245.04,289.44 245.55,289.28 246.06,288.93 246.58,288.68 247.11,288.41 247.64,288.13 248.17,287.9 248.71,287.74 249.24,287.53 249.78,287.28 250.31,287.08 250.84,286.84 251.36,286.73 251.88,286.59 252.4,286.5 252.91,286.41 253.41,286.29 253.92,286.15 254.43,285.9 254.94,285.72 255.45,285.55 255.97,285.54 256.48,285.43 257,285.46 257.52,285.43 258.04,285.31 258.56,285.12 259.07,284.94 259.59,284.82 260.11,284.63 260.63,284.57 261.14,284.48 261.66,284.47 262.17,284.37 262.68,284.38 263.19,284.36 263.7,284.35 264.21,284.31 264.72,284.23 265.22,284.16 265.72,284.07 266.22,284.04 266.73,283.91 267.24,283.91 267.75,283.78 268.28,283.7 268.82,283.55 269.37,283.51 269.93,283.39 270.5,283.4 271.07,283.37 271.65,283.29 272.23,283.28 272.8,283.22 273.38,283.28 273.94,283.27 274.5,283.31 275.05,283.23 275.59,283.28 276.11,283.14 276.62,282.96 277.11,282.92 277.57,282.89 278.02,282.65 278.43,282.51 278.82,282.63 279.16,282.58 279.46,282.51 279.71,282.52 279.9,282.54"/>
<polyline fill="none" stroke="#0808f8" stroke-width="2.0" stroke-linejoin="round" stroke-linecap="butt" stroke-dasharray="4.2,1.5" points="189.94,306.91 190.15,306.76 190.44,306.94 190.79,306.95 191.19,306.82 191.65,306.81 192.14,306.77 192.66,306.78 193.21,306.79 193.78,306.8 194.36,306.85 194.95,306.96 195.55,306.99 196.14,307.17 196.73,307.1 197.32,307.09 197.88,306.99 198.44,306.81 198.99,306.57 199.53,306.68 200.08,306.59 200.62,306.61 201.17,306.67 201.72,306.55 202.26,306.34 202.8,306.38 203.33,306.35 203.85,306.33 204.35,306.32 204.84,306.45 205.31,306.52 205.78,306.42 206.23,306.24 206.67,306.26 207.11,306.12 207.54,305.93 207.96,305.72 208.38,305.58 208.78,305.11 209.17,304.75 209.54,304.21 209.89,303.81 210.23,303.51 210.57,303.29 210.91,302.75 211.24,302.4 211.58,302.28 211.91,301.68 212.24,301.23 212.56,301.09 212.89,300.85 213.21,300.29 213.54,299.97 213.86,299.6 214.18,298.98 214.51,298.44 214.83,298.04 215.14,297.65 215.45,297.25 215.74,296.92 216.03,296.4 216.31,295.88 216.59,295.37 216.86,294.88 217.13,294.24 217.4,293.79 217.66,293.21 217.93,292.86 218.19,292.32 218.45,292.07 218.7,291.74 218.95,291.47 219.2,290.94 219.44,290.45 219.68,289.84 219.91,289.34 220.15,288.83 220.38,288.4 220.6,288.03 220.82,287.72 221.04,287.33 221.25,286.78 221.46,286.37 221.66,285.85 221.87,285.31 222.07,284.79 222.29,284.47 222.5,284.02 222.73,283.55 222.95,283.07 223.19,282.62 223.42,282.1 223.66,281.69 223.91,281.23 224.16,280.82 224.41,280.36 224.67,279.9 224.94,279.35 225.22,278.99 225.51,278.55 225.8,278.08 226.1,277.67 226.4,277.44 226.71,277.03 227.03,276.65 227.35,276.36 227.68,275.93 228.02,275.43 228.36,275.03 228.7,274.44 229.04,273.98 229.38,273.46 229.73,273.02 230.07,272.74 230.41,272.65 230.76,272.32 231.11,272.21 231.45,271.89 231.8,271.48 232.15,271.07 232.5,270.64 232.85,270.23 233.21,269.79 233.56,269.43 233.92,269.05 234.27,268.61 234.63,268.23 234.98,267.89 235.32,267.59 235.66,267.39 235.99,267.16 236.32,266.9 236.66,266.66 237.02,266.33 237.4,265.87 237.82,265.7 238.28,265.41 238.76,265.1 239.25,264.79 239.73,264.52 240.2,264.28 240.65,264 241.08,263.72 241.49,263.53 241.91,263.39 242.34,263.16 242.78,263.02 243.23,263 243.7,262.77 244.17,262.49 244.66,262.23 245.15,262.02 245.65,261.61 246.16,261.47 246.67,261.21 247.19,261.08 247.72,260.88 248.24,260.92 248.77,260.86 249.3,260.79 249.82,260.52 250.35,260.24 250.87,259.9 251.38,259.65 251.9,259.47 252.41,259.33 252.91,259.15 253.42,259.03 253.92,258.93 254.43,258.75 254.94,258.71 255.45,258.52 255.97,258.52 256.48,258.23 257,258.05 257.52,257.85 258.04,257.86 258.56,257.79 259.07,257.76 259.59,257.77 260.11,257.68 260.63,257.71 261.14,257.62 261.66,257.64 262.17,257.49 262.68,257.46 263.19,257.39 263.7,257.12 264.21,256.99 264.72,257.1 265.22,257.15 265.72,257.09 266.22,257.21 266.73,257.21 267.24,257.1 267.75,256.81 268.28,256.82 268.82,256.73 269.37,256.58 269.93,256.42 270.5,256.61 271.07,256.43 271.65,256.36 272.23,256.25 272.8,256.23 273.38,255.99 273.94,255.95 274.5,255.68 275.05,255.74 275.59,255.64 276.11,255.61 276.62,255.53 277.11,255.55 277.57,255.41 278.02,255.27 278.43,255.17 278.82,254.99 279.16,255.04 279.46,255.04 279.71,255 279.9,254.98"/>
<polyline fill="none" stroke="#f40808" stroke-width="1.5" stroke-linejoin="round" stroke-linecap="butt" stroke-dasharray="2.4,0.9" points="189.93,306.72 190.13,306.74 190.41,306.82 190.74,306.92 191.13,306.86 191.57,306.9 192.04,307.07 192.55,307.13 193.08,306.99 193.64,306.98 194.22,306.92 194.81,306.79 195.42,306.76 196.03,306.85 196.65,306.78 197.27,306.7 197.89,306.69 198.5,306.63 199.11,306.61 199.7,306.69 200.27,306.68 200.83,306.8 201.36,306.94 201.87,306.9 202.37,306.86 202.85,306.76 203.34,306.49 203.83,306.42 204.33,306.33 204.81,306.16 205.26,305.98 205.65,305.94 205.99,305.54 206.29,305.26 206.57,305.04 206.85,304.71 207.13,304.16 207.42,303.77 207.72,303.35 208.02,302.83 208.32,302.42 208.62,302.08 208.9,301.57 209.18,301.12 209.45,300.75 209.7,300.24 209.96,299.71 210.21,299.29 210.47,298.74 210.73,298.18 210.98,297.85 211.25,297.32 211.51,296.89 211.77,296.42 212.03,295.91 212.28,295.27 212.54,294.75 212.79,294.25 213.04,293.91 213.29,293.42 213.54,293.09 213.79,292.67 214.04,292.23 214.3,291.64 214.55,291.21 214.8,290.6 215.05,290.18 215.31,289.66 215.57,289.31 215.83,288.91 216.1,288.58 216.36,288.11 216.63,287.7 216.91,287.21 217.18,286.8 217.46,286.38 217.74,286.1 218.02,285.62 218.3,285.06 218.59,284.61 218.88,284.23 219.17,283.72 219.46,283.3 219.75,282.94 220.04,282.4 220.33,281.83 220.63,281.34 220.92,280.93 221.22,280.41 221.52,280.03 221.82,279.64 222.11,279.2 222.41,278.78 222.7,278.43 222.99,278.01 223.29,277.69 223.59,277.27 223.9,276.89 224.22,276.46 224.54,276.02 224.86,275.53 225.18,275.12 225.5,274.73 225.81,274.27 226.13,273.87 226.43,273.45 226.74,273.09 227.04,272.6 227.33,272.22 227.62,271.81 227.92,271.48 228.21,271.09 228.52,270.67 228.82,270.22 229.13,269.73 229.45,269.27 229.76,268.77 230.09,268.35 230.41,268.19 230.74,267.7 231.08,267.33 231.42,266.83 231.76,266.39 232.11,266.04 232.46,265.91 232.82,265.53 233.18,265.39 233.54,265.19 233.9,264.64 234.27,264.15 234.64,263.73 235,263.38 235.37,263.03 235.73,262.83 236.09,262.62 236.45,262.43 236.83,262.12 237.24,261.74 237.68,261.35 238.16,261.09 238.67,260.76 239.18,260.46 239.69,260.29 240.18,260.19 240.63,259.91 241.07,259.57 241.49,259.43 241.91,259.11 242.34,258.95 242.78,258.78 243.23,258.77 243.7,258.57 244.17,258.56 244.66,258.29 245.15,258.23 245.65,257.97 246.16,257.78 246.67,257.55 247.19,257.34 247.72,257.11 248.24,256.88 248.77,256.58 249.3,256.44 249.82,256.31 250.35,256.13 250.87,256.16 251.38,256.25 251.9,256.03 252.4,255.82 252.91,255.66 253.41,255.49 253.91,255.27 254.4,255.22 254.9,255.04 255.4,255.06 255.9,254.89 256.4,254.77 256.9,254.56 257.41,254.54 257.91,254.24 258.41,254.21 258.92,254.14 259.42,254.06 259.92,253.94 260.43,253.87 260.93,253.72 261.43,253.66 261.93,253.55 262.42,253.64 262.92,253.49 263.41,253.29 263.9,253.15 264.38,253.03 264.87,252.85 265.35,252.85 265.83,252.84 266.31,252.76 266.8,252.78 267.3,252.56 267.81,252.42 268.34,252.49 268.89,252.36 269.46,252.28 270.04,252.18 270.63,252.26 271.22,252.09 271.81,251.97 272.4,251.87 272.99,251.82 273.57,251.69 274.14,251.64 274.7,251.54 275.24,251.45 275.77,251.39 276.28,251.25 276.77,251.28 277.23,251.25 277.66,251.24 278.06,251.2 278.42,251.13 278.74,250.97 278.99,251.03 279.19,250.9"/>
<polyline fill="none" stroke="#000" stroke-width="2.0" stroke-linejoin="round" stroke-linecap="butt" points="190,306.76 190.25,307 190.59,307.09 191.01,307.07 191.49,306.99 192.02,306.88 192.59,306.64 193.17,306.47 193.76,306.46 194.34,306.27 194.9,306.31 195.46,306.56 196,306.58 196.54,306.84 197.07,306.95 197.6,307.03 198.12,306.87 198.64,306.78 199.15,306.83 199.65,306.87 200.15,306.59 200.65,306.58 201.15,306.71 201.65,306.84 202.15,306.91 202.63,307.03 203.09,306.9 203.53,306.89 203.94,306.42 204.32,306.06 204.68,305.7 205.01,305.23 205.32,304.46 205.59,303.8 205.83,303.03 206.03,302.6 206.21,302.35 206.36,302.37 206.5,302.1 206.62,302.12 206.74,301.83 206.86,301.21 206.99,300.37 207.11,299.84 207.24,298.95 207.37,298.15 207.51,297.65 207.66,297.3 207.81,296.5 207.96,296.09 208.12,295.66 208.29,295.28 208.45,294.59 208.62,294.44 208.78,293.8 208.95,293.19 209.12,292.48 209.28,292.14 209.44,291.53 209.6,291.35 209.76,291.04 209.92,290.64 210.08,290.26 210.23,290.03 210.38,289.39 210.54,289.09 210.69,288.66 210.83,288.09 210.97,287.24 211.11,286.86 211.25,286.25 211.37,285.75 211.49,285.32 211.61,285.24 211.72,284.83 211.82,284.07 211.93,283.49 212.03,283.02 212.13,282.35 212.23,281.76 212.34,281.17 212.45,280.8 212.58,280.2 212.71,279.51 212.85,279.07 213.01,278.88 213.18,278.42 213.35,278.07 213.54,277.61 213.74,276.95 213.94,276.35 214.14,275.87 214.35,275.28 214.56,274.7 214.78,274.07 214.99,273.46 215.21,272.86 215.43,272.11 215.65,271.65 215.87,271.46 216.1,271.02 216.32,270.61 216.55,270.02 216.79,269.8 217.02,268.99 217.26,268.85 217.51,268.36 217.77,268.29 218.03,267.61 218.31,267.41 218.6,266.7 218.89,266.36 219.19,265.8 219.49,265.47 219.8,264.89 220.12,264.51 220.46,264.09 220.8,263.71 221.16,263.4 221.53,262.75 221.91,262.55 222.3,261.89 222.71,261.31 223.12,260.94 223.56,260.73 224,260.52 224.46,260.41 224.93,260.38 225.4,260.2 225.88,260.19 226.35,259.73 226.82,259.52 227.27,259.57 227.72,259.32 228.16,259.02 228.6,258.78 229.03,258.25 229.47,257.9 229.91,257.39 230.35,257.13 230.79,256.85 231.24,256.91 231.69,256.4 232.15,256.24 232.61,256 233.08,255.46 233.55,255.12 234.01,255.11 234.47,255.14 234.92,254.95 235.36,254.97 235.78,255.01 236.19,254.71 236.61,254.58 237.05,254.41 237.52,254.45 238.03,254.14 238.57,254.06 239.12,253.83 239.65,253.8 240.17,253.59 240.65,253.46 241.11,253.53 241.55,253.39 241.99,253.25 242.44,252.96 242.9,252.94 243.37,252.53 243.85,252.12 244.34,252 244.85,251.96 245.36,251.76 245.89,251.74 246.42,251.79 246.95,251.58 247.49,251.53 248.04,251.75 248.58,251.49 249.13,251.26 249.67,251.12 250.21,250.87 250.75,250.38 251.29,250.27 251.82,250.35 252.35,250.36 252.87,250.54 253.39,250.5 253.9,250.56 254.42,250.47 254.93,250.01 255.45,249.82 255.96,249.69 256.48,249.47 257,249.36 257.52,249.56 258.04,249.57 258.56,249.62 259.07,249.48 259.59,249.52 260.11,249.34 260.63,249.26 261.14,249.4 261.66,249.69 262.17,249.39 262.68,249.75 263.19,249.88 263.7,249.62 264.21,249.44 264.72,249.79 265.22,249.59 265.72,249.11 266.22,249.01 266.73,248.94 267.24,248.74 267.75,248.9 268.28,249.15 268.82,249.27 269.37,249.04 269.93,248.78 270.5,248.5 271.07,248.41 271.65,248.52 272.23,248.86 272.8,248.78 273.38,248.84 273.94,248.64 274.5,248.25 275.05,248.02 275.59,248.13 276.11,248.01 276.62,248.01 277.11,248.14 277.57,248.06 278.02,248.01 278.43,247.87 278.82,247.93 279.16,247.68 279.46,247.58 279.71,247.7 279.9,247.84"/>
<line x1="363.75" y1="212.8" x2="363.75" y2="315.45" stroke="#141414" stroke-width="1.3"/>
<line x1="363.15" y1="314.85" x2="512.8" y2="314.85" stroke="#141414" stroke-width="1.25"/>
<line x1="360.75" y1="314.85" x2="363.75" y2="314.85" stroke="#141414" stroke-width="1.25"/>
<text transform="translate(358.3,317.9) scale(0.92,1)" font-size="8.6" text-anchor="end" font-weight="normal">0</text>
<line x1="360.75" y1="294.84" x2="363.75" y2="294.84" stroke="#222" stroke-width="0.95"/>
<text transform="translate(358.3,298.14) scale(0.92,1)" font-size="8.6" text-anchor="end" font-weight="normal">20</text>
<line x1="360.75" y1="275.08" x2="363.75" y2="275.08" stroke="#222" stroke-width="0.95"/>
<text transform="translate(358.3,278.38) scale(0.92,1)" font-size="8.6" text-anchor="end" font-weight="normal">40</text>
<line x1="360.75" y1="255.32" x2="363.75" y2="255.32" stroke="#222" stroke-width="0.95"/>
<text transform="translate(358.3,258.62) scale(0.92,1)" font-size="8.6" text-anchor="end" font-weight="normal">60</text>
<line x1="360.75" y1="235.56" x2="363.75" y2="235.56" stroke="#222" stroke-width="0.95"/>
<text transform="translate(358.3,238.86) scale(0.92,1)" font-size="8.6" text-anchor="end" font-weight="normal">80</text>
<line x1="360.75" y1="215.8" x2="363.75" y2="215.8" stroke="#222" stroke-width="0.95"/>
<text transform="translate(358.3,219.1) scale(0.92,1)" font-size="8.6" text-anchor="end" font-weight="normal">100</text>
<line x1="380.5" y1="314.85" x2="380.5" y2="318.05" stroke="#222" stroke-width="0.95"/>
<text transform="translate(380.5,328.1) scale(0.92,1)" font-size="8.6" text-anchor="middle" font-weight="normal">0.0</text>
<line x1="419" y1="314.85" x2="419" y2="318.05" stroke="#222" stroke-width="0.95"/>
<text transform="translate(419,328.1) scale(0.92,1)" font-size="8.6" text-anchor="middle" font-weight="normal">0.5</text>
<line x1="457.5" y1="314.85" x2="457.5" y2="318.05" stroke="#222" stroke-width="0.95"/>
<text transform="translate(457.5,328.1) scale(0.92,1)" font-size="8.6" text-anchor="middle" font-weight="normal">1.0</text>
<line x1="496" y1="314.85" x2="496" y2="318.05" stroke="#222" stroke-width="0.95"/>
<text transform="translate(496,328.1) scale(0.92,1)" font-size="8.6" text-anchor="middle" font-weight="normal">5.0</text>
<line x1="373.2" y1="240.6" x2="373.2" y2="237.14" stroke="#111" stroke-width="1.0"/>
<line x1="370.6" y1="237.14" x2="375.8" y2="237.14" stroke="#111" stroke-width="1.15"/>
<rect x="369.15" y="240.9" width="8.1" height="73.7" fill="#dc8916" stroke="#d17e0e" stroke-width="0.6"/>
<line x1="387.8" y1="244.35" x2="387.8" y2="241.59" stroke="#111" stroke-width="1.0"/>
<line x1="385.2" y1="241.59" x2="390.4" y2="241.59" stroke="#111" stroke-width="1.15"/>
<rect x="383.75" y="244.65" width="8.1" height="69.95" fill="#8a81bf" stroke="#7e75b6" stroke-width="0.6"/>
<line x1="411.7" y1="277.95" x2="411.7" y2="274.78" stroke="#111" stroke-width="1.0"/>
<line x1="409.1" y1="274.78" x2="414.3" y2="274.78" stroke="#111" stroke-width="1.15"/>
<rect x="407.65" y="278.25" width="8.1" height="36.35" fill="#dc8916" stroke="#d17e0e" stroke-width="0.6"/>
<line x1="426.3" y1="250.38" x2="426.3" y2="238.62" stroke="#111" stroke-width="1.0"/>
<line x1="423.7" y1="238.62" x2="428.9" y2="238.62" stroke="#111" stroke-width="1.15"/>
<rect x="422.25" y="250.68" width="8.1" height="63.92" fill="#8a81bf" stroke="#7e75b6" stroke-width="0.6"/>
<line x1="450.2" y1="284.07" x2="450.2" y2="280.81" stroke="#111" stroke-width="1.0"/>
<line x1="447.6" y1="280.81" x2="452.8" y2="280.81" stroke="#111" stroke-width="1.15"/>
<rect x="446.15" y="284.37" width="8.1" height="30.23" fill="#dc8916" stroke="#d17e0e" stroke-width="0.6"/>
<line x1="464.8" y1="255.52" x2="464.8" y2="246.53" stroke="#111" stroke-width="1.0"/>
<line x1="462.2" y1="246.53" x2="467.4" y2="246.53" stroke="#111" stroke-width="1.15"/>
<rect x="460.75" y="255.82" width="8.1" height="58.78" fill="#8a81bf" stroke="#7e75b6" stroke-width="0.6"/>
<line x1="488.7" y1="298.4" x2="488.7" y2="295.73" stroke="#111" stroke-width="1.0"/>
<line x1="486.1" y1="295.73" x2="491.3" y2="295.73" stroke="#111" stroke-width="1.15"/>
<rect x="484.65" y="298.7" width="8.1" height="15.9" fill="#dc8916" stroke="#d17e0e" stroke-width="0.6"/>
<line x1="503.3" y1="287.33" x2="503.3" y2="278.74" stroke="#111" stroke-width="1.0"/>
<line x1="500.7" y1="278.74" x2="505.9" y2="278.74" stroke="#111" stroke-width="1.15"/>
<rect x="499.25" y="287.63" width="8.1" height="26.97" fill="#8a81bf" stroke="#7e75b6" stroke-width="0.6"/>
<line x1="373.5" y1="213.5" x2="488.9" y2="213.5" stroke="#3a3a3a" stroke-width="1.1"/>
<line x1="373.5" y1="211.9" x2="373.5" y2="215.1" stroke="#333" stroke-width="1.0"/>
<line x1="488.9" y1="211.9" x2="488.9" y2="215.1" stroke="#333" stroke-width="1.0"/>
<rect x="426.32" y="209.85" width="1.5" height="1.5" fill="#1a1a1a"/>
<rect x="429.07" y="209.85" width="1.5" height="1.5" fill="#1a1a1a"/>
<rect x="431.82" y="209.85" width="1.5" height="1.5" fill="#1a1a1a"/>
<rect x="434.57" y="209.85" width="1.5" height="1.5" fill="#1a1a1a"/>
<line x1="373.5" y1="223.5" x2="450.3" y2="223.5" stroke="#3a3a3a" stroke-width="1.1"/>
<line x1="373.5" y1="221.9" x2="373.5" y2="225.1" stroke="#333" stroke-width="1.0"/>
<line x1="450.3" y1="221.9" x2="450.3" y2="225.1" stroke="#333" stroke-width="1.0"/>
<rect x="407.02" y="219.85" width="1.5" height="1.5" fill="#1a1a1a"/>
<rect x="409.77" y="219.85" width="1.5" height="1.5" fill="#1a1a1a"/>
<rect x="412.52" y="219.85" width="1.5" height="1.5" fill="#1a1a1a"/>
<rect x="415.27" y="219.85" width="1.5" height="1.5" fill="#1a1a1a"/>
<line x1="373.5" y1="232.5" x2="411.9" y2="232.5" stroke="#3a3a3a" stroke-width="1.1"/>
<line x1="373.5" y1="230.9" x2="373.5" y2="234.1" stroke="#333" stroke-width="1.0"/>
<line x1="411.9" y1="230.9" x2="411.9" y2="234.1" stroke="#333" stroke-width="1.0"/>
<rect x="389.2" y="228.85" width="1.5" height="1.5" fill="#1a1a1a"/>
<rect x="391.95" y="228.85" width="1.5" height="1.5" fill="#1a1a1a"/>
<rect x="394.7" y="228.85" width="1.5" height="1.5" fill="#1a1a1a"/>
<text class="c" transform="translate(336.4,264.2) rotate(-90) scale(0.76,1)" font-size="9.0" text-anchor="middle">Final aggregation (%)</text>
<text class="c" transform="translate(423.6,341.05) scale(0.76,1)" font-size="9.0" text-anchor="middle">11-HpDPA<tspan font-size="6.6" dy="1.8">n-6</tspan><tspan dy="-1.8"> (µM)</tspan></text>
<text x="7" y="371.55" font-size="12" text-anchor="start" font-weight="bold" class="b">C</text>
<text x="140.2" y="371.55" font-size="9.5">14-HpDPA<tspan font-size="7.2" dy="2.5">n-6</tspan></text>
<line x1="53.35" y1="389.85" x2="53.35" y2="485.5" stroke="#141414" stroke-width="1.3"/>
<line x1="52.75" y1="482.3" x2="146.2" y2="482.3" stroke="#141414" stroke-width="1.25"/>
<line x1="50.1" y1="474.25" x2="53.2" y2="474.25" stroke="#222" stroke-width="0.95"/>
<text transform="translate(46.8,477.55) scale(0.92,1)" font-size="8.6" text-anchor="end" font-weight="normal">0</text>
<line x1="50.1" y1="457.91" x2="53.2" y2="457.91" stroke="#222" stroke-width="0.95"/>
<text transform="translate(46.8,461.21) scale(0.92,1)" font-size="8.6" text-anchor="end" font-weight="normal">20</text>
<line x1="50.1" y1="441.57" x2="53.2" y2="441.57" stroke="#222" stroke-width="0.95"/>
<text transform="translate(46.8,444.87) scale(0.92,1)" font-size="8.6" text-anchor="end" font-weight="normal">40</text>
<line x1="50.1" y1="425.23" x2="53.2" y2="425.23" stroke="#222" stroke-width="0.95"/>
<text transform="translate(46.8,428.53) scale(0.92,1)" font-size="8.6" text-anchor="end" font-weight="normal">60</text>
<line x1="50.1" y1="408.89" x2="53.2" y2="408.89" stroke="#222" stroke-width="0.95"/>
<text transform="translate(46.8,412.19) scale(0.92,1)" font-size="8.6" text-anchor="end" font-weight="normal">80</text>
<line x1="50.1" y1="392.55" x2="53.2" y2="392.55" stroke="#222" stroke-width="0.95"/>
<text transform="translate(46.8,395.85) scale(0.92,1)" font-size="8.6" text-anchor="end" font-weight="normal">100</text>
<line x1="71.15" y1="482.3" x2="71.15" y2="485.5" stroke="#222" stroke-width="0.95"/>
<line x1="89.1" y1="482.3" x2="89.1" y2="485.5" stroke="#222" stroke-width="0.95"/>
<line x1="107.05" y1="482.3" x2="107.05" y2="485.5" stroke="#222" stroke-width="0.95"/>
<line x1="125" y1="482.3" x2="125" y2="485.5" stroke="#222" stroke-width="0.95"/>
<line x1="142.95" y1="482.3" x2="142.95" y2="485.5" stroke="#222" stroke-width="0.95"/>
<text transform="translate(53.2,495.45) scale(0.92,1)" font-size="8.6" text-anchor="middle" font-weight="normal">0</text>
<text transform="translate(71.15,495.45) scale(0.92,1)" font-size="8.6" text-anchor="middle" font-weight="normal">1</text>
<text transform="translate(89.1,495.45) scale(0.92,1)" font-size="8.6" text-anchor="middle" font-weight="normal">2</text>
<text transform="translate(107.05,495.45) scale(0.92,1)" font-size="8.6" text-anchor="middle" font-weight="normal">3</text>
<text transform="translate(125,495.45) scale(0.92,1)" font-size="8.6" text-anchor="middle" font-weight="normal">4</text>
<text transform="translate(142.95,495.45) scale(0.92,1)" font-size="8.6" text-anchor="middle" font-weight="normal">5</text>
<text transform="translate(99.4,508.65) scale(0.76,1)" font-size="9.0" text-anchor="middle" font-weight="normal" class="c">Time (min)</text>
<text class="c" transform="translate(26.6,436.15) rotate(-90) scale(0.76,1)" font-size="9.0" text-anchor="middle">Aggregation (%)</text>
<text x="99.3" y="384.15" font-size="7.9" text-anchor="middle">Wild-type</text>
<polyline fill="none" stroke="#2c760a" stroke-width="1.6" stroke-linejoin="round" stroke-linecap="butt" points="53.8,475.06 53.98,475.02 54.22,475.03 54.52,475.07 54.86,475.19 55.23,475.01 55.64,475.04 56.07,474.83 56.53,474.8 57,474.78 57.5,474.84 58.01,474.74 58.53,474.79 59.07,474.79 59.62,474.66 60.18,474.63 60.75,474.61 61.32,474.59 61.9,474.44 62.47,474.43 63.05,474.38 63.63,474.3 64.2,474.3 64.77,474.24 65.33,474.15 65.88,474.11 66.41,474.06 66.93,473.81 67.44,473.83 67.94,473.74 68.43,473.63 68.92,473.57 69.41,473.79 69.89,473.58 70.38,473.51 70.87,473.59 71.36,473.49 71.86,473.45 72.35,473.63 72.85,473.58 73.35,473.39 73.85,473.44 74.35,473.38 74.85,473.23 75.35,473.26 75.86,473.2 76.37,473.24 76.87,472.97 77.38,472.94 77.89,472.93 78.4,472.94 78.91,472.73 79.43,472.83 79.94,472.73 80.45,472.58 80.96,472.65 81.47,472.77 81.97,472.65 82.47,472.66 82.97,472.79 83.47,472.63 83.96,472.46 84.46,472.48 84.96,472.35 85.46,472.26 85.96,472.19 86.46,472.18 86.96,472.08 87.47,472.18 87.97,472.13 88.48,472.13 88.99,472.19 89.49,472.12 90,472.1 90.51,471.99 91.01,471.91 91.52,471.96 92.03,472.12 92.53,472.17 93.04,472.17 93.54,472.18 94.04,472.11 94.54,472.1 95.04,472.12 95.54,472.24 96.04,472.34 96.53,472.32 97.03,472.28 97.52,472.1 98.02,472.13 98.53,472.06 99.03,472 99.54,471.97 100.05,472.08 100.55,471.98 101.06,471.9 101.56,471.9 102.07,471.96 102.57,471.86 103.07,471.94 103.57,471.99 104.07,471.98 104.57,472.01 105.06,472.08 105.56,472.21 106.06,472.14 106.55,472.1 107.05,472.01 107.54,471.89 108.04,471.55 108.53,471.61 109.03,471.56 109.52,471.46 110.02,471.41 110.51,471.46 111.01,471.4 111.51,471.38 112,471.32 112.5,471.28 113,471.14 113.5,471.14 114,471.1 114.5,471.07 115,471.07 115.5,471.15 116,471.13 116.5,471.1 117,471.15 117.5,471.17 118,470.98 118.5,470.84 119,470.86 119.5,470.79 120,470.73 120.5,470.9 121,470.86 121.5,470.8 122,470.83 122.5,470.68 123,470.68 123.5,470.58 124,470.51 124.5,470.56 125,470.57 125.5,470.45 126,470.57 126.5,470.55 127.01,470.42 127.51,470.41 128.02,470.33 128.54,470.45 129.07,470.49 129.6,470.36 130.15,470.2 130.7,470.2 131.26,470.04 131.83,469.88 132.4,469.88 132.98,469.98 133.56,469.99 134.13,470.03 134.71,470 135.28,469.96 135.85,470.08 136.41,469.96 136.96,469.85 137.51,469.97 138.04,470.08 138.56,469.88 139.06,470.01 139.55,470.08 140.01,470.04 140.46,470.01 140.89,469.99 141.29,470 141.66,469.88 141.99,469.85 142.28,469.79 142.52,469.74 142.71,469.58"/>
<polyline fill="none" stroke="#f40808" stroke-width="1.3" stroke-linejoin="round" stroke-linecap="butt" stroke-dasharray="3,0.7" points="53.8,474.88 53.98,474.75 54.22,474.48 54.52,474.62 54.86,475.15 55.23,475.07 55.64,474.95 56.07,474.73 56.53,474.65 57,474.26 57.5,474.3 58.01,474.65 58.53,474.83 59.07,474.6 59.62,474.72 60.18,474.32 60.75,474.07 61.32,474.06 61.9,473.86 62.47,473.52 63.05,473.68 63.63,473.4 64.2,473.34 64.77,473.43 65.33,473.44 65.88,473.19 66.41,473.14 66.93,472.69 67.44,472.32 67.94,471.99 68.43,471.9 68.92,471.74 69.41,471.83 69.89,472.02 70.38,472.23 70.87,472.45 71.36,472.45 71.86,472.61 72.35,472.58 72.85,472.61 73.35,472.23 73.85,472.25 74.35,471.9 74.85,471.53 75.35,471.02 75.86,471.1 76.37,470.89 76.87,471.03 77.38,470.99 77.89,471.09 78.4,471.21 78.91,470.91 79.43,470.65 79.94,470.86 80.45,470.66 80.96,470.31 81.47,470.52 81.97,470.4 82.47,470.14 82.97,470.22 83.47,470.21 83.96,470.23 84.46,470.43 84.96,470.42 85.46,470.37 85.96,470.28 86.46,470.25 86.96,470.09 87.47,469.6 87.97,469.64 88.48,469.59 88.99,469.8 89.49,469.7 90,470.19 90.51,470.18 91.01,470 91.52,469.55 92.03,469.52 92.53,469.48 93.04,469.32 93.54,469.47 94.04,469.52 94.54,469.68 95.04,469.73 95.54,469.81 96.04,469.67 96.53,469.43 97.03,469.4 97.53,468.93 98.04,468.66 98.55,468.8 99.07,469 99.59,469.21 100.12,469.35 100.65,469.38 101.19,469.3 101.73,469.31 102.27,468.73 102.81,468.88 103.35,468.87 103.89,468.95 104.42,468.71 104.96,468.77 105.49,468.46 106.02,468.32 106.54,467.91 107.06,467.56 107.57,467.6 108.07,467.52 108.57,467.72 109.05,467.87 109.53,468.02 110,467.91 110.46,468.06 110.92,468.02 111.36,468.03 111.81,468.22 112.27,468.24 112.76,468.27 113.28,467.9 113.83,467.82 114.4,467.69 114.99,467.67 115.56,467.57 116.13,467.68 116.66,467.6 117.17,467.88 117.66,467.91 118.11,467.79 118.55,468.04 118.97,468.07 119.38,467.79 119.78,468.08 120.17,468.23 120.55,468.14 120.92,468.11 121.28,468.28 121.64,467.96 122.01,467.5 122.41,467.43 122.84,467.08 123.28,466.56 123.73,466.41 124.19,466.48 124.64,466.05 125.09,465.98 125.56,465.9 126.04,465.87 126.53,465.87 127.05,466.05 127.58,466.33 128.12,466.42 128.67,466.05 129.23,465.95 129.79,465.74 130.36,465.19 130.92,464.99 131.48,464.88 132.02,464.98 132.56,464.58 133.09,464.66 133.61,464.66 134.12,464.8 134.63,464.43 135.15,464.76 135.68,464.75 136.24,464.89 136.81,464.83 137.39,465.06 137.98,464.66 138.55,464.66 139.11,464.42 139.66,464.22 140.17,463.72 140.66,464.07 141.11,464.21 141.53,464.09 141.91,464.36 142.23,464.8 142.49,464.59 142.69,464.29"/>
<polyline fill="none" stroke="#0808f8" stroke-width="2.0" stroke-linejoin="round" stroke-linecap="butt" stroke-dasharray="9,0.6" points="53.83,474.98 54.04,474.37 54.32,474.1 54.66,473.97 55.05,473.9 55.5,473.67 55.98,473.36 56.49,473.25 57.02,472.92 57.57,472.79 58.13,473.06 58.7,472.94 59.26,472.63 59.82,472.89 60.37,472.72 60.9,472.55 61.42,472.52 61.92,472.5 62.42,471.55 62.91,471.24 63.41,471.07 63.9,470.91 64.4,470.71 64.91,470.73 65.41,470.59 65.92,470.45 66.43,470.19 66.94,470.6 67.46,470.79 67.97,470.79 68.47,470.48 68.98,469.81 69.48,469.24 69.97,468.78 70.46,468.77 70.94,468.53 71.42,468.75 71.89,468.59 72.37,468.46 72.84,467.62 73.32,467.6 73.79,467.56 74.26,467.22 74.74,467.07 75.21,467.29 75.68,466.8 76.16,466.49 76.63,466.35 77.11,465.51 77.58,465.35 78.05,465.6 78.52,465.75 79,465.32 79.47,465.91 79.94,465.57 80.41,464.91 80.87,464.44 81.34,464.52 81.81,464.39 82.27,463.79 82.74,463.77 83.21,463.47 83.68,463.08 84.15,462.38 84.62,463.04 85.09,462.55 85.57,462.17 86.05,462.34 86.53,462.53 87.02,461.74 87.51,461.74 88,461.93 88.5,461.24 89,461.18 89.51,461.29 90.02,461.38 90.54,461.25 91.06,461.1 91.59,460.46 92.12,459.83 92.65,459.57 93.18,459.06 93.7,459.39 94.22,459.35 94.73,459.92 95.23,459.75 95.72,459.79 96.21,458.88 96.69,458.93 97.17,458.74 97.67,458.29 98.18,458.4 98.71,458.82 99.25,458.84 99.8,458.09 100.34,458.56 100.86,457.83 101.36,457.8 101.85,457.69 102.32,457.37 102.77,457.22 103.22,457.77 103.67,457.35 104.12,456.75 104.58,457.13 105.04,456.83 105.5,456.74 105.95,456.67 106.4,456.91 106.84,457.06 107.27,457.2 107.68,456.57 108.09,456.79 108.5,456.75 108.92,456.45 109.38,456.34 109.86,456.71 110.38,456.54 110.94,456.87 111.52,456.86 112.1,456.59 112.65,456.39 113.18,456.5 113.67,456.17 114.13,456.12 114.57,456.28 115.02,455.81 115.46,455.65 115.92,455.64 116.39,455.45 116.87,454.85 117.36,454.78 117.87,454.02 118.38,453.88 118.9,453.87 119.42,453.95 119.95,454.45 120.49,454.67 121.03,454.77 121.57,454.92 122.12,455.2 122.67,454.71 123.21,454.64 123.76,454.38 124.3,454.39 124.84,453.98 125.38,454.22 125.91,454.61 126.44,454.16 126.97,454.3 127.49,454.43 128.01,454.21 128.53,454 129.06,454.28 129.6,453.59 130.15,453.44 130.7,453.44 131.26,453.09 131.83,453.28 132.4,453.56 132.98,453.79 133.56,453.41 134.13,453.48 134.71,453.3 135.28,453.07 135.85,452.43 136.41,452.81 136.96,453.29 137.51,453.34 138.04,453.28 138.56,453.36 139.06,453.45 139.55,453.07 140.01,452.71 140.46,452.6 140.89,453 141.29,452.69 141.66,452.37 141.99,452.14 142.28,452.09 142.52,451.81 142.71,451.7"/>
<polyline fill="none" stroke="#000" stroke-width="2.0" stroke-linejoin="round" stroke-linecap="butt" points="53.79,474.37 53.98,473.72 54.24,473.4 54.54,473.33 54.89,473.25 55.26,472.56 55.65,471.87 56.02,471.72 56.39,471.65 56.74,471.14 57.07,471.21 57.39,470.42 57.69,470.29 58,469.56 58.29,469.31 58.58,468.39 58.87,468.35 59.14,467.87 59.39,467.54 59.62,466.65 59.84,466.18 60.05,465.47 60.24,464.78 60.44,464.48 60.62,464 60.81,463.65 61,463.3 61.19,462.86 61.37,462 61.56,462 61.75,461.51 61.93,460.84 62.11,460.31 62.29,460.23 62.46,459.58 62.63,459.34 62.79,459.12 62.94,458.58 63.1,457.58 63.25,456.81 63.4,456.08 63.55,455.16 63.7,454.69 63.85,454.31 64,454.22 64.15,453.32 64.3,453.59 64.45,453.28 64.6,452.85 64.75,452.13 64.9,452.35 65.05,451.54 65.2,450.84 65.36,450.32 65.52,449.52 65.68,448.76 65.84,448.28 66,447.82 66.17,447.42 66.33,447.04 66.5,446.5 66.67,445.93 66.83,445.19 67,444.82 67.17,444.43 67.33,444.01 67.5,443.42 67.67,443.25 67.83,442.67 68,442.39 68.17,441.66 68.34,441.14 68.51,440.35 68.68,439.82 68.86,439.38 69.03,438.96 69.21,438.67 69.38,438.3 69.56,437.85 69.74,437.37 69.91,436.99 70.09,436.38 70.26,436.25 70.44,435.82 70.62,435.3 70.8,434.72 70.98,434.03 71.17,433.47 71.36,432.69 71.56,432.27 71.77,431.76 71.99,431.5 72.22,431.04 72.45,430.57 72.68,430.27 72.92,429.95 73.17,429.43 73.42,428.65 73.68,428.13 73.95,427 74.23,426.39 74.52,426.13 74.81,425.83 75.12,425.97 75.43,425.71 75.75,425.19 76.08,424.76 76.42,424.39 76.76,423.48 77.12,423.54 77.48,423.49 77.85,422.74 78.23,422.32 78.62,422.06 79.01,421.66 79.4,421.18 79.8,421.02 80.21,420.87 80.63,421.06 81.05,420.82 81.48,420.64 81.92,420.43 82.36,419.99 82.8,419.61 83.24,418.88 83.68,418.62 84.13,418.56 84.58,418.3 85.02,417.39 85.48,417.23 85.93,416.83 86.39,416.26 86.85,416.04 87.31,416.42 87.77,416.01 88.23,415.7 88.69,415.64 89.15,415.71 89.61,415.17 90.07,415.36 90.52,415.58 90.97,415.26 91.4,414.84 91.82,414.96 92.23,414.7 92.64,414.19 93.05,414.12 93.48,413.93 93.94,413.6 94.44,413.44 94.97,413.42 95.53,413.17 96.1,413.07 96.65,412.98 97.17,412.77 97.65,412.95 98.11,412.89 98.55,412.36 98.99,412.45 99.44,412.32 99.89,411.99 100.36,411.95 100.84,412.5 101.33,412.08 101.83,412.2 102.34,412.36 102.86,412.44 103.38,412.02 103.91,412.38 104.45,412.41 104.99,412.02 105.54,411.55 106.09,411.69 106.63,411.26 107.18,411.06 107.73,411.02 108.28,411.53 108.82,411.45 109.37,411.33 109.9,411.09 110.43,411.06 110.96,410.8 111.48,410.47 111.99,410.29 112.5,410.49 113.01,410.34 113.52,410.4 114.03,410.56 114.54,410.59 115.05,410.46 115.55,410.52 116.06,410.81 116.56,411.12 117.07,411.2 117.57,411.14 118.07,411.16 118.57,410.71 119.07,410.52 119.57,410.5 120.06,410.36 120.56,409.93 121.06,409.74 121.55,409.79 122.05,409.82 122.54,409.94 123.04,409.97 123.53,409.62 124.03,409.52 124.52,409.31 125.02,409.12 125.51,408.98 126.01,409.65 126.51,409.79 127.01,409.58 127.51,409.56 128.02,409.88 128.54,409.66 129.07,409.54 129.6,409.85 130.15,409.92 130.7,410.05 131.26,409.61 131.83,409.39 132.4,409.38 132.98,409.44 133.56,409.11 134.13,409.29 134.71,409.07 135.28,409.02 135.85,408.74 136.41,409.41 136.96,409.39 137.51,409.85 138.04,409.74 138.56,409.85 139.06,409.53 139.55,409.59 140.01,409.75 140.46,409.95 140.89,409.68 141.29,409.75 141.66,409.24 141.99,408.73 142.28,408.46 142.52,408.8 142.71,408.37"/>
<line x1="189.7" y1="389.85" x2="189.7" y2="485.5" stroke="#141414" stroke-width="1.3"/>
<line x1="189.1" y1="482.3" x2="282.5" y2="482.3" stroke="#141414" stroke-width="1.25"/>
<line x1="186.4" y1="474.25" x2="189.5" y2="474.25" stroke="#222" stroke-width="0.95"/>
<text transform="translate(183.1,477.55) scale(0.92,1)" font-size="8.6" text-anchor="end" font-weight="normal">0</text>
<line x1="186.4" y1="457.91" x2="189.5" y2="457.91" stroke="#222" stroke-width="0.95"/>
<text transform="translate(183.1,461.21) scale(0.92,1)" font-size="8.6" text-anchor="end" font-weight="normal">20</text>
<line x1="186.4" y1="441.57" x2="189.5" y2="441.57" stroke="#222" stroke-width="0.95"/>
<text transform="translate(183.1,444.87) scale(0.92,1)" font-size="8.6" text-anchor="end" font-weight="normal">40</text>
<line x1="186.4" y1="425.23" x2="189.5" y2="425.23" stroke="#222" stroke-width="0.95"/>
<text transform="translate(183.1,428.53) scale(0.92,1)" font-size="8.6" text-anchor="end" font-weight="normal">60</text>
<line x1="186.4" y1="408.89" x2="189.5" y2="408.89" stroke="#222" stroke-width="0.95"/>
<text transform="translate(183.1,412.19) scale(0.92,1)" font-size="8.6" text-anchor="end" font-weight="normal">80</text>
<line x1="186.4" y1="392.55" x2="189.5" y2="392.55" stroke="#222" stroke-width="0.95"/>
<text transform="translate(183.1,395.85) scale(0.92,1)" font-size="8.6" text-anchor="end" font-weight="normal">100</text>
<line x1="207.45" y1="482.3" x2="207.45" y2="485.5" stroke="#222" stroke-width="0.95"/>
<line x1="225.4" y1="482.3" x2="225.4" y2="485.5" stroke="#222" stroke-width="0.95"/>
<line x1="243.35" y1="482.3" x2="243.35" y2="485.5" stroke="#222" stroke-width="0.95"/>
<line x1="261.3" y1="482.3" x2="261.3" y2="485.5" stroke="#222" stroke-width="0.95"/>
<line x1="279.25" y1="482.3" x2="279.25" y2="485.5" stroke="#222" stroke-width="0.95"/>
<text transform="translate(189.5,495.45) scale(0.92,1)" font-size="8.6" text-anchor="middle" font-weight="normal">0</text>
<text transform="translate(207.45,495.45) scale(0.92,1)" font-size="8.6" text-anchor="middle" font-weight="normal">1</text>
<text transform="translate(225.4,495.45) scale(0.92,1)" font-size="8.6" text-anchor="middle" font-weight="normal">2</text>
<text transform="translate(243.35,495.45) scale(0.92,1)" font-size="8.6" text-anchor="middle" font-weight="normal">3</text>
<text transform="translate(261.3,495.45) scale(0.92,1)" font-size="8.6" text-anchor="middle" font-weight="normal">4</text>
<text transform="translate(279.25,495.45) scale(0.92,1)" font-size="8.6" text-anchor="middle" font-weight="normal">5</text>
<text transform="translate(235.7,508.65) scale(0.76,1)" font-size="9.0" text-anchor="middle" font-weight="normal" class="c">Time (min)</text>
<text class="c" transform="translate(162.9,436.15) rotate(-90) scale(0.76,1)" font-size="9.0" text-anchor="middle">Aggregation (%)</text>
<text transform="translate(220.9,384.35) scale(0.92,1)" font-size="8.5">PPARα<tspan font-size="5.4" dy="-3.9">-/-</tspan></text>
<polyline fill="none" stroke="#2c760a" stroke-width="1.8" stroke-linejoin="round" stroke-linecap="butt" points="189.95,473.92 190.17,474.21 190.47,474.45 190.83,474.48 191.25,474.55 191.73,474.5 192.24,474.23 192.79,473.82 193.36,473.78 193.95,473.65 194.55,473.44 195.15,473.5 195.76,473.76 196.36,473.69 196.94,473.79 197.51,474.02 198.06,474.01 198.6,473.93 199.12,473.58 199.64,473.48 200.16,473.3 200.67,473.17 201.17,472.84 201.65,472.79 202.11,472.35 202.54,472.15 202.97,471.77 203.39,471.72 203.82,471.5 204.26,471.54 204.7,471.52 205.15,471.11 205.6,470.82 206.07,470.59 206.54,470.04 207.01,469.46 207.5,469.33 207.98,468.82 208.46,468.62 208.94,468.45 209.42,468.39 209.89,468.07 210.36,468.06 210.82,467.84 211.28,467.75 211.73,467.49 212.18,467.56 212.63,467.26 213.07,466.67 213.51,466.24 213.94,465.94 214.37,465.46 214.8,465.01 215.23,464.96 215.65,464.73 216.08,464.31 216.5,463.86 216.92,463.64 217.34,463.43 217.75,462.94 218.17,462.79 218.59,462.57 219,462.1 219.42,461.7 219.84,461.58 220.25,461.06 220.67,460.8 221.09,460.65 221.51,460.45 221.94,460.32 222.37,460.17 222.8,459.84 223.24,459.47 223.67,459.03 224.11,458.7 224.54,458.57 224.96,458.03 225.38,457.87 225.79,457.58 226.2,457.4 226.61,456.93 227.04,457.06 227.47,456.5 227.9,455.99 228.33,455.46 228.76,454.96 229.18,454.21 229.6,454.1 230.01,453.95 230.42,453.67 230.84,453.72 231.26,453.55 231.68,453.26 232.12,452.88 232.58,452.63 233.04,452.35 233.53,452.36 234.03,451.97 234.54,452.01 235.05,451.78 235.56,451.43 236.06,451.01 236.55,451.07 237.02,450.91 237.49,450.9 237.98,450.93 238.48,450.84 239,450.77 239.53,450.5 240.04,450.39 240.52,450.17 240.96,449.99 241.39,449.98 241.8,450.15 242.22,449.72 242.66,449.79 243.1,449.86 243.57,449.58 244.04,448.98 244.53,448.88 245.03,448.41 245.54,448.28 246.06,448.12 246.58,448.24 247.12,448.24 247.65,448.24 248.19,447.95 248.73,447.96 249.28,447.53 249.82,447.26 250.36,447.02 250.89,446.81 251.43,446.67 251.95,446.74 252.47,446.5 252.99,446.37 253.5,446.3 254,445.95 254.51,445.82 255.02,445.89 255.52,445.94 256.03,445.89 256.55,445.94 257.06,445.93 257.57,446.06 258.09,445.92 258.6,445.9 259.12,445.93 259.63,446.03 260.15,445.98 260.66,445.83 261.18,445.59 261.69,445.72 262.2,445.36 262.71,445.09 263.21,444.97 263.72,445.1 264.22,444.74 264.72,444.59 265.21,444.75 265.7,444.8 266.19,444.85 266.68,444.91 267.18,445.13 267.69,445.06 268.21,444.98 268.75,444.79 269.31,444.59 269.88,444.54 270.47,444.41 271.06,444.45 271.66,444.33 272.26,444.36 272.86,444.23 273.45,444.19 274.03,444 274.61,443.85 275.17,443.97 275.72,443.8 276.25,443.73 276.76,443.96 277.25,444.12 277.71,443.85 278.15,443.94 278.55,443.79 278.92,443.47 279.23,443.41 279.49,443.41 279.69,443.25"/>
<polyline fill="none" stroke="#0808f8" stroke-width="2.0" stroke-linejoin="round" stroke-linecap="butt" stroke-dasharray="4.2,1.5" points="189.92,473.95 190.13,474.19 190.4,473.99 190.73,473.87 191.12,473.88 191.55,473.97 192.02,473.79 192.51,473.63 193.04,473.67 193.58,473.69 194.13,473.66 194.7,473.63 195.27,473.47 195.84,473.23 196.41,473.07 196.97,472.81 197.52,472.68 198.05,472.64 198.58,472.67 199.09,472.68 199.61,472.73 200.13,472.69 200.65,472.78 201.18,472.71 201.71,472.71 202.23,472.6 202.73,472.55 203.22,472.23 203.7,472.16 204.17,471.83 204.64,471.88 205.1,471.78 205.57,471.9 206.05,471.84 206.53,471.73 207.02,471.28 207.51,471.14 208.01,470.84 208.51,470.63 209.01,470.62 209.51,470.7 210.01,470.54 210.5,470.48 210.99,470.31 211.48,470.05 211.97,469.84 212.46,469.8 212.95,469.67 213.44,469.53 213.93,469.47 214.43,469.39 214.92,469.02 215.41,468.94 215.89,468.74 216.37,468.39 216.85,468.12 217.32,467.99 217.78,467.69 218.24,467.57 218.69,467.36 219.13,467.02 219.56,466.68 219.99,466.23 220.42,465.71 220.85,465.41 221.27,465.24 221.69,465 222.1,464.65 222.5,464.27 222.9,463.97 223.3,463.59 223.68,462.99 224.06,462.67 224.43,462.52 224.8,462.14 225.16,461.65 225.51,461.34 225.86,460.79 226.2,460.23 226.53,459.8 226.85,459.39 227.17,459.05 227.49,458.68 227.82,458.22 228.16,457.83 228.51,457.36 228.87,456.95 229.23,456.51 229.59,456.04 229.96,455.53 230.31,455.15 230.67,454.4 231.04,453.96 231.41,453.69 231.79,453.25 232.18,452.72 232.58,452.6 232.98,452.35 233.39,452.09 233.8,451.61 234.21,451.39 234.63,451.02 235.05,450.87 235.48,450.48 235.89,450.25 236.3,450.01 236.7,449.85 237.1,449.44 237.48,449.19 237.86,448.94 238.24,448.45 238.63,448.09 239.04,447.69 239.46,447.26 239.88,446.85 240.31,446.75 240.75,446.51 241.18,446.38 241.63,446.2 242.08,446.1 242.55,445.71 243.03,445.38 243.52,444.94 244.01,444.64 244.52,444.34 245.02,444.28 245.52,444.07 246.01,443.97 246.49,443.78 246.97,443.63 247.44,443.17 247.89,442.97 248.34,442.73 248.78,442.67 249.22,442.45 249.66,442.55 250.11,442.5 250.58,442.41 251.07,442.17 251.59,442.23 252.12,442.06 252.67,442.09 253.22,441.76 253.76,441.58 254.27,441.58 254.76,441.5 255.23,441.03 255.69,440.96 256.16,440.84 256.63,440.45 257.11,440.16 257.61,440.2 258.11,440.3 258.63,440.24 259.15,440.29 259.68,440.33 260.21,440.38 260.75,440.21 261.3,440.23 261.84,440.17 262.39,440.21 262.93,439.96 263.47,440 264.01,439.82 264.55,439.79 265.07,439.69 265.6,439.83 266.12,439.74 266.63,439.93 267.15,439.76 267.67,439.49 268.2,439.26 268.74,439.2 269.3,439.07 269.88,439 270.47,439.02 271.06,439.07 271.66,438.89 272.26,438.8 272.86,438.82 273.45,438.71 274.03,438.58 274.61,438.57 275.17,438.34 275.72,438.26 276.25,438.27 276.76,438.3 277.25,438.31 277.71,438.19 278.15,438.13 278.55,438.18 278.92,438.09 279.23,437.92 279.49,437.98 279.69,437.83"/>
<polyline fill="none" stroke="#f40808" stroke-width="1.4" stroke-linejoin="round" stroke-linecap="butt" stroke-dasharray="2.5,0.6" points="189.96,474.45 190.2,474.55 190.51,474.45 190.89,474.29 191.33,474.48 191.83,474.08 192.36,474.02 192.92,474.32 193.51,474.52 194.1,474.41 194.7,474.41 195.29,474.2 195.87,473.96 196.43,473.79 196.99,473.34 197.53,473.27 198.07,473.51 198.6,473.27 199.12,473.1 199.64,473 200.14,472.65 200.62,472.26 201.09,472.24 201.53,471.85 201.97,471.73 202.39,471.63 202.81,471.51 203.21,470.98 203.62,470.54 204.01,470.37 204.39,470.03 204.76,469.35 205.12,469.18 205.47,469.14 205.81,468.47 206.15,468.02 206.48,467.83 206.81,467.26 207.14,466.49 207.46,466.24 207.78,465.77 208.1,465.25 208.42,464.8 208.74,464.59 209.05,464.17 209.35,463.73 209.65,463.26 209.94,462.79 210.22,462.18 210.49,461.43 210.76,460.97 211.03,460.53 211.3,460.1 211.57,459.56 211.84,459.24 212.11,458.86 212.38,458.56 212.66,457.97 212.95,457.71 213.25,457.46 213.55,456.83 213.86,456.16 214.18,456.08 214.5,455.66 214.82,454.95 215.14,454.49 215.46,454.05 215.78,453.51 216.11,453.08 216.43,452.87 216.76,452.47 217.09,452.16 217.42,451.79 217.75,451.28 218.08,450.84 218.42,450.51 218.75,450.09 219.09,449.55 219.43,449.07 219.77,448.5 220.12,448.36 220.48,447.97 220.83,447.71 221.18,447.36 221.54,447.09 221.9,446.35 222.26,445.99 222.63,445.6 223.01,445.28 223.39,444.97 223.77,444.61 224.16,444.07 224.56,443.83 224.97,443.45 225.38,442.9 225.81,442.93 226.24,442.9 226.68,442.62 227.13,442.52 227.59,442.32 228.05,441.99 228.52,441.67 229,441.29 229.47,441.09 229.94,441.07 230.4,440.79 230.86,440.67 231.32,440.61 231.77,440.22 232.23,440.01 232.69,439.73 233.15,439.6 233.61,438.94 234.06,438.83 234.51,438.63 234.95,438.62 235.38,438.09 235.8,438.27 236.21,438.18 236.63,437.84 237.07,437.6 237.53,437.45 238.04,437.16 238.57,437.07 239.12,436.86 239.66,436.56 240.17,436.78 240.65,436.9 241.11,436.57 241.56,436.6 242,436.43 242.45,435.88 242.91,435.54 243.38,435.56 243.87,435.46 244.37,435.32 244.87,435.04 245.39,435.13 245.92,434.81 246.45,434.72 246.99,434.79 247.53,435.12 248.08,434.75 248.63,434.59 249.18,434.28 249.73,434.11 250.27,433.86 250.82,433.67 251.36,433.75 251.9,433.61 252.43,433.44 252.95,433.27 253.47,433.39 253.99,433.57 254.5,433.51 255.01,433.25 255.52,433.05 256.03,432.91 256.55,432.53 257.06,432.62 257.57,432.61 258.09,432.54 258.6,432.46 259.12,432.57 259.63,432.56 260.15,432.77 260.66,432.96 261.18,433.06 261.69,432.75 262.2,432.73 262.71,432.65 263.21,432.64 263.72,432.39 264.22,432.36 264.72,432.09 265.21,432.13 265.7,431.78 266.19,431.74 266.68,431.77 267.18,431.62 267.69,431.4 268.21,431.66 268.75,431.74 269.31,431.49 269.88,431.59 270.47,431.37 271.06,430.83 271.66,430.78 272.26,430.95 272.86,430.7 273.45,430.91 274.03,431.29 274.61,431.41 275.17,431.33 275.72,431.65 276.25,431.4 276.76,431.2 277.25,431.09 277.71,431.09 278.15,431.05 278.55,431.01 278.92,431 279.23,430.81 279.49,430.58 279.69,430.43"/>
<polyline fill="none" stroke="#000" stroke-width="2.0" stroke-linejoin="round" stroke-linecap="butt" points="190,473.57 190.27,473.79 190.61,474.2 191.04,474.21 191.53,474.11 192.07,473.91 192.64,474 193.22,473.99 193.81,474.04 194.38,473.85 194.95,473.67 195.5,473.83 196.04,473.42 196.57,473.63 197.09,473.1 197.61,472.47 198.11,472.07 198.61,472.04 199.1,471.91 199.58,472.3 200.06,472.14 200.54,471.81 201.02,471.77 201.48,471.3 201.93,470.81 202.36,470.53 202.78,469.95 203.19,469.72 203.58,469.38 203.95,468.76 204.32,468.73 204.66,468.43 204.98,467.83 205.29,467.29 205.57,467.13 205.84,466.59 206.09,465.88 206.33,465.39 206.56,465.06 206.79,464.51 207.01,464.11 207.23,464.09 207.43,464.07 207.63,463.1 207.82,462.9 208,462.28 208.17,461.68 208.34,460.7 208.51,460.03 208.69,459.47 208.86,458.87 209.03,458.4 209.19,458.05 209.36,457.83 209.53,456.89 209.7,456.3 209.86,455.88 210.02,455.45 210.19,455.34 210.35,454.88 210.51,454.62 210.67,454 210.83,453.11 210.99,452.2 211.15,451.76 211.32,451.25 211.48,450.65 211.66,450.23 211.83,450.05 212.02,449.54 212.21,449.03 212.4,448.49 212.6,447.97 212.8,447.18 213,446.9 213.2,446.45 213.41,445.96 213.62,445.68 213.83,445.01 214.05,444.31 214.28,443.63 214.51,443.56 214.76,443.22 215.01,442.88 215.26,443.03 215.53,442.81 215.8,441.82 216.08,441.2 216.36,440.66 216.65,439.59 216.94,438.63 217.24,438.51 217.54,438.05 217.85,437.59 218.16,437.49 218.47,437.57 218.79,437.19 219.1,436.79 219.41,436.41 219.73,435.91 220.05,435.49 220.37,434.83 220.69,434.2 221.01,433.68 221.32,433.21 221.64,432.46 221.96,432.24 222.28,431.89 222.6,431.67 222.92,431.32 223.24,431.04 223.56,430.84 223.88,430.46 224.2,429.83 224.52,429.17 224.85,428.87 225.18,428.47 225.52,427.87 225.88,428.01 226.25,427.77 226.63,427.59 227.02,426.78 227.43,426.39 227.84,425.69 228.26,425.34 228.7,424.58 229.14,424.15 229.6,424.16 230.06,424.15 230.54,423.84 231.02,423.66 231.51,423.85 232.01,423.1 232.51,422.79 233.02,422.62 233.54,422.63 234.05,422.29 234.57,422.65 235.08,422.44 235.59,422.22 236.07,422.09 236.53,421.65 236.96,421.32 237.36,421.09 237.77,420.6 238.19,420.34 238.64,420.43 239.12,420.38 239.62,420.15 240.1,420.55 240.57,420.5 241.02,420.42 241.45,419.48 241.88,419.38 242.32,419.09 242.77,418.8 243.24,418.36 243.72,419.09 244.22,418.88 244.73,418.69 245.25,418.64 245.78,418.96 246.32,418.59 246.87,418.36 247.42,418.35 247.98,418.21 248.54,417.49 249.1,417.33 249.66,417.44 250.22,416.9 250.78,416.99 251.33,417.01 251.87,417.2 252.41,416.87 252.94,417.05 253.47,416.59 253.99,416.68 254.5,416.05 255.01,416.04 255.52,416.21 256.03,416.35 256.55,416.75 257.06,416.67 257.57,417.02 258.09,416.8 258.6,416.37 259.12,415.61 259.63,415.81 260.15,415.48 260.66,415.3 261.18,415.79 261.69,416 262.2,415.9 262.71,415.64 263.21,415.45 263.72,415.07 264.22,414.99 264.72,414.91 265.21,415.1 265.7,415.13 266.19,415 266.68,415.19 267.18,415.53 267.69,415.33 268.21,415.78 268.75,415.75 269.31,415.74 269.88,415.52 270.47,415.46 271.06,415.07 271.66,415.05 272.26,414.82 272.86,414.73 273.45,414.77 274.03,414.56 274.61,414.69 275.17,414.81 275.72,414.6 276.25,414.61 276.76,414.96 277.25,415.02 277.71,414.66 278.15,415.35 278.55,415.18 278.92,415.14 279.23,415.03 279.49,415.7 279.69,415.07"/>
<line x1="363.75" y1="380.25" x2="363.75" y2="482.9" stroke="#141414" stroke-width="1.3"/>
<line x1="363.15" y1="482.3" x2="512.8" y2="482.3" stroke="#141414" stroke-width="1.25"/>
<line x1="360.75" y1="482.3" x2="363.75" y2="482.3" stroke="#141414" stroke-width="1.25"/>
<text transform="translate(358.3,485.35) scale(0.92,1)" font-size="8.6" text-anchor="end" font-weight="normal">0</text>
<line x1="360.75" y1="462.29" x2="363.75" y2="462.29" stroke="#222" stroke-width="0.95"/>
<text transform="translate(358.3,465.59) scale(0.92,1)" font-size="8.6" text-anchor="end" font-weight="normal">20</text>
<line x1="360.75" y1="442.53" x2="363.75" y2="442.53" stroke="#222" stroke-width="0.95"/>
<text transform="translate(358.3,445.83) scale(0.92,1)" font-size="8.6" text-anchor="end" font-weight="normal">40</text>
<line x1="360.75" y1="422.77" x2="363.75" y2="422.77" stroke="#222" stroke-width="0.95"/>
<text transform="translate(358.3,426.07) scale(0.92,1)" font-size="8.6" text-anchor="end" font-weight="normal">60</text>
<line x1="360.75" y1="403.01" x2="363.75" y2="403.01" stroke="#222" stroke-width="0.95"/>
<text transform="translate(358.3,406.31) scale(0.92,1)" font-size="8.6" text-anchor="end" font-weight="normal">80</text>
<line x1="360.75" y1="383.25" x2="363.75" y2="383.25" stroke="#222" stroke-width="0.95"/>
<text transform="translate(358.3,386.55) scale(0.92,1)" font-size="8.6" text-anchor="end" font-weight="normal">100</text>
<line x1="380.5" y1="482.3" x2="380.5" y2="485.5" stroke="#222" stroke-width="0.95"/>
<text transform="translate(380.5,495.55) scale(0.92,1)" font-size="8.6" text-anchor="middle" font-weight="normal">0.0</text>
<line x1="419" y1="482.3" x2="419" y2="485.5" stroke="#222" stroke-width="0.95"/>
<text transform="translate(419,495.55) scale(0.92,1)" font-size="8.6" text-anchor="middle" font-weight="normal">0.5</text>
<line x1="457.5" y1="482.3" x2="457.5" y2="485.5" stroke="#222" stroke-width="0.95"/>
<text transform="translate(457.5,495.55) scale(0.92,1)" font-size="8.6" text-anchor="middle" font-weight="normal">1.0</text>
<line x1="496" y1="482.3" x2="496" y2="485.5" stroke="#222" stroke-width="0.95"/>
<text transform="translate(496,495.55) scale(0.92,1)" font-size="8.6" text-anchor="middle" font-weight="normal">5.0</text>
<line x1="373.2" y1="411.01" x2="373.2" y2="405.88" stroke="#111" stroke-width="1.0"/>
<line x1="370.6" y1="405.88" x2="375.8" y2="405.88" stroke="#111" stroke-width="1.15"/>
<rect x="369.15" y="411.31" width="8.1" height="70.74" fill="#dc8916" stroke="#d17e0e" stroke-width="0.6"/>
<line x1="387.8" y1="403.7" x2="387.8" y2="400.64" stroke="#111" stroke-width="1.0"/>
<line x1="385.2" y1="400.64" x2="390.4" y2="400.64" stroke="#111" stroke-width="1.15"/>
<rect x="383.75" y="404" width="8.1" height="78.05" fill="#8a81bf" stroke="#7e75b6" stroke-width="0.6"/>
<line x1="411.7" y1="446.48" x2="411.7" y2="443.02" stroke="#111" stroke-width="1.0"/>
<line x1="409.1" y1="443.02" x2="414.3" y2="443.02" stroke="#111" stroke-width="1.15"/>
<rect x="407.65" y="446.78" width="8.1" height="35.27" fill="#dc8916" stroke="#d17e0e" stroke-width="0.6"/>
<line x1="426.3" y1="422.18" x2="426.3" y2="416.25" stroke="#111" stroke-width="1.0"/>
<line x1="423.7" y1="416.25" x2="428.9" y2="416.25" stroke="#111" stroke-width="1.15"/>
<rect x="422.25" y="422.48" width="8.1" height="59.57" fill="#8a81bf" stroke="#7e75b6" stroke-width="0.6"/>
<line x1="450.2" y1="447.07" x2="450.2" y2="442.73" stroke="#111" stroke-width="1.0"/>
<line x1="447.6" y1="442.73" x2="452.8" y2="442.73" stroke="#111" stroke-width="1.15"/>
<rect x="446.15" y="447.37" width="8.1" height="34.68" fill="#dc8916" stroke="#d17e0e" stroke-width="0.6"/>
<line x1="464.8" y1="429.98" x2="464.8" y2="423.46" stroke="#111" stroke-width="1.0"/>
<line x1="462.2" y1="423.46" x2="467.4" y2="423.46" stroke="#111" stroke-width="1.15"/>
<rect x="460.75" y="430.28" width="8.1" height="51.77" fill="#8a81bf" stroke="#7e75b6" stroke-width="0.6"/>
<line x1="488.7" y1="463.67" x2="488.7" y2="459.72" stroke="#111" stroke-width="1.0"/>
<line x1="486.1" y1="459.72" x2="491.3" y2="459.72" stroke="#111" stroke-width="1.15"/>
<rect x="484.65" y="463.97" width="8.1" height="18.08" fill="#dc8916" stroke="#d17e0e" stroke-width="0.6"/>
<line x1="503.3" y1="444.9" x2="503.3" y2="438.78" stroke="#111" stroke-width="1.0"/>
<line x1="500.7" y1="438.78" x2="505.9" y2="438.78" stroke="#111" stroke-width="1.15"/>
<rect x="499.25" y="445.2" width="8.1" height="36.85" fill="#8a81bf" stroke="#7e75b6" stroke-width="0.6"/>
<line x1="387.8" y1="377.5" x2="502.4" y2="377.5" stroke="#3a3a3a" stroke-width="1.1"/>
<line x1="387.8" y1="375.9" x2="387.8" y2="379.1" stroke="#333" stroke-width="1.0"/>
<line x1="502.4" y1="375.9" x2="502.4" y2="379.1" stroke="#333" stroke-width="1.0"/>
<rect x="440.23" y="373.85" width="1.5" height="1.5" fill="#1a1a1a"/>
<rect x="442.98" y="373.85" width="1.5" height="1.5" fill="#1a1a1a"/>
<rect x="445.73" y="373.85" width="1.5" height="1.5" fill="#1a1a1a"/>
<rect x="448.48" y="373.85" width="1.5" height="1.5" fill="#1a1a1a"/>
<line x1="387.8" y1="387.5" x2="464.2" y2="387.5" stroke="#3a3a3a" stroke-width="1.1"/>
<line x1="387.8" y1="385.9" x2="387.8" y2="389.1" stroke="#333" stroke-width="1.0"/>
<line x1="464.2" y1="385.9" x2="464.2" y2="389.1" stroke="#333" stroke-width="1.0"/>
<rect x="422.5" y="383.85" width="1.5" height="1.5" fill="#1a1a1a"/>
<rect x="425.25" y="383.85" width="1.5" height="1.5" fill="#1a1a1a"/>
<rect x="428" y="383.85" width="1.5" height="1.5" fill="#1a1a1a"/>
<line x1="387.8" y1="396.5" x2="425.8" y2="396.5" stroke="#3a3a3a" stroke-width="1.1"/>
<line x1="387.8" y1="394.9" x2="387.8" y2="398.1" stroke="#333" stroke-width="1.0"/>
<line x1="425.8" y1="394.9" x2="425.8" y2="398.1" stroke="#333" stroke-width="1.0"/>
<rect x="406.05" y="392.85" width="1.5" height="1.5" fill="#1a1a1a"/>
<text class="c" transform="translate(336.4,431.65) rotate(-90) scale(0.76,1)" font-size="9.0" text-anchor="middle">Final aggregation (%)</text>
<text class="c" transform="translate(423.6,508.5) scale(0.76,1)" font-size="9.0" text-anchor="middle">14-HpDPA<tspan font-size="6.6" dy="1.8">n-6</tspan><tspan dy="-1.8"> (µM)</tspan></text>
</svg>
</body></html>
